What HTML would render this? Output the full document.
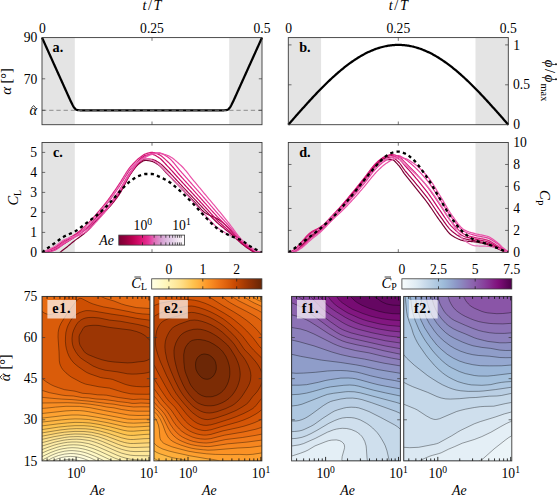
<!DOCTYPE html>
<html><head><meta charset="utf-8"><title>figure</title>
<style>html,body{margin:0;padding:0;background:#fff}body{width:558px;height:497px;overflow:hidden;font-family:"Liberation Serif",serif}</style></head>
<body>
<svg width="558" height="497" viewBox="0 0 558 497" style="display:block">
<rect width="558" height="497" fill="#fff"/>
<rect x="42.00" y="37.60" width="32.8" height="87.10" fill="#e4e4e4"/>
<rect x="229.20" y="37.60" width="32.8" height="87.10" fill="#e4e4e4"/>
<path d="M42.00,37.60 L42.50,38.71 L43.00,39.82 L43.50,40.92 L44.00,42.03 L44.50,43.14 L45.00,44.25 L45.50,45.36 L46.00,46.47 L46.50,47.57 L47.00,48.68 L47.50,49.79 L48.00,50.90 L48.50,52.01 L49.00,53.12 L49.50,54.22 L50.00,55.33 L50.50,56.44 L51.00,57.55 L51.50,58.66 L52.00,59.76 L52.50,60.87 L53.00,61.98 L53.50,63.09 L54.00,64.20 L54.50,65.31 L55.00,66.41 L55.50,67.52 L56.00,68.63 L56.50,69.74 L57.00,70.85 L57.50,71.96 L58.00,73.06 L58.50,74.17 L59.00,75.28 L59.50,76.39 L60.00,77.50 L60.50,78.60 L61.00,79.71 L61.50,80.82 L62.00,81.93 L62.50,83.04 L63.00,84.15 L63.50,85.25 L64.00,86.36 L64.50,87.47 L65.00,88.58 L65.50,89.69 L66.00,90.79 L66.50,91.90 L67.00,93.01 L67.50,94.11 L68.00,95.22 L68.50,96.32 L69.00,97.42 L69.50,98.52 L70.00,99.61 L70.50,100.70 L71.00,101.77 L71.50,102.82 L72.00,103.85 L72.50,104.84 L73.00,105.77 L73.50,106.64 L74.00,107.42 L74.50,108.10 L75.00,108.67 L75.50,109.12 L76.00,109.47 L76.50,109.72 L77.00,109.91 L77.50,110.03 L78.00,110.12 L78.50,110.18 L79.00,110.22 L79.50,110.25 L80.00,110.27 L80.50,110.28 L81.00,110.28 L81.50,110.29 L82.00,110.29 L82.50,110.30 L83.00,110.30 L83.50,110.30 L84.00,110.30 L84.50,110.30 L85.00,110.30 L85.50,110.30 L86.00,110.30 L86.50,110.30 L87.00,110.30 L87.50,110.30 L88.00,110.30 L88.50,110.30 L89.00,110.30 L89.50,110.30 L90.00,110.30 L90.50,110.30 L91.00,110.30 L91.50,110.30 L92.00,110.30 L92.50,110.30 L93.00,110.30 L93.50,110.30 L94.00,110.30 L94.50,110.30 L95.00,110.30 L95.50,110.30 L96.00,110.30 L96.50,110.30 L97.00,110.30 L97.50,110.30 L98.00,110.30 L98.50,110.30 L99.00,110.30 L99.50,110.30 L100.00,110.30 L100.50,110.30 L101.00,110.30 L101.50,110.30 L102.00,110.30 L102.50,110.30 L103.00,110.30 L103.50,110.30 L104.00,110.30 L104.50,110.30 L105.00,110.30 L105.50,110.30 L106.00,110.30 L106.50,110.30 L107.00,110.30 L107.50,110.30 L108.00,110.30 L108.50,110.30 L109.00,110.30 L109.50,110.30 L110.00,110.30 L110.50,110.30 L111.00,110.30 L111.50,110.30 L112.00,110.30 L112.50,110.30 L113.00,110.30 L113.50,110.30 L114.00,110.30 L114.50,110.30 L115.00,110.30 L115.50,110.30 L116.00,110.30 L116.50,110.30 L117.00,110.30 L117.50,110.30 L118.00,110.30 L118.50,110.30 L119.00,110.30 L119.50,110.30 L120.00,110.30 L120.50,110.30 L121.00,110.30 L121.50,110.30 L122.00,110.30 L122.50,110.30 L123.00,110.30 L123.50,110.30 L124.00,110.30 L124.50,110.30 L125.00,110.30 L125.50,110.30 L126.00,110.30 L126.50,110.30 L127.00,110.30 L127.50,110.30 L128.00,110.30 L128.50,110.30 L129.00,110.30 L129.50,110.30 L130.00,110.30 L130.50,110.30 L131.00,110.30 L131.50,110.30 L132.00,110.30 L132.50,110.30 L133.00,110.30 L133.50,110.30 L134.00,110.30 L134.50,110.30 L135.00,110.30 L135.50,110.30 L136.00,110.30 L136.50,110.30 L137.00,110.30 L137.50,110.30 L138.00,110.30 L138.50,110.30 L139.00,110.30 L139.50,110.30 L140.00,110.30 L140.50,110.30 L141.00,110.30 L141.50,110.30 L142.00,110.30 L142.50,110.30 L143.00,110.30 L143.50,110.30 L144.00,110.30 L144.50,110.30 L145.00,110.30 L145.50,110.30 L146.00,110.30 L146.50,110.30 L147.00,110.30 L147.50,110.30 L148.00,110.30 L148.50,110.30 L149.00,110.30 L149.50,110.30 L150.00,110.30 L150.50,110.30 L151.00,110.30 L151.50,110.30 L152.00,110.30 L152.50,110.30 L153.00,110.30 L153.50,110.30 L154.00,110.30 L154.50,110.30 L155.00,110.30 L155.50,110.30 L156.00,110.30 L156.50,110.30 L157.00,110.30 L157.50,110.30 L158.00,110.30 L158.50,110.30 L159.00,110.30 L159.50,110.30 L160.00,110.30 L160.50,110.30 L161.00,110.30 L161.50,110.30 L162.00,110.30 L162.50,110.30 L163.00,110.30 L163.50,110.30 L164.00,110.30 L164.50,110.30 L165.00,110.30 L165.50,110.30 L166.00,110.30 L166.50,110.30 L167.00,110.30 L167.50,110.30 L168.00,110.30 L168.50,110.30 L169.00,110.30 L169.50,110.30 L170.00,110.30 L170.50,110.30 L171.00,110.30 L171.50,110.30 L172.00,110.30 L172.50,110.30 L173.00,110.30 L173.50,110.30 L174.00,110.30 L174.50,110.30 L175.00,110.30 L175.50,110.30 L176.00,110.30 L176.50,110.30 L177.00,110.30 L177.50,110.30 L178.00,110.30 L178.50,110.30 L179.00,110.30 L179.50,110.30 L180.00,110.30 L180.50,110.30 L181.00,110.30 L181.50,110.30 L182.00,110.30 L182.50,110.30 L183.00,110.30 L183.50,110.30 L184.00,110.30 L184.50,110.30 L185.00,110.30 L185.50,110.30 L186.00,110.30 L186.50,110.30 L187.00,110.30 L187.50,110.30 L188.00,110.30 L188.50,110.30 L189.00,110.30 L189.50,110.30 L190.00,110.30 L190.50,110.30 L191.00,110.30 L191.50,110.30 L192.00,110.30 L192.50,110.30 L193.00,110.30 L193.50,110.30 L194.00,110.30 L194.50,110.30 L195.00,110.30 L195.50,110.30 L196.00,110.30 L196.50,110.30 L197.00,110.30 L197.50,110.30 L198.00,110.30 L198.50,110.30 L199.00,110.30 L199.50,110.30 L200.00,110.30 L200.50,110.30 L201.00,110.30 L201.50,110.30 L202.00,110.30 L202.50,110.30 L203.00,110.30 L203.50,110.30 L204.00,110.30 L204.50,110.30 L205.00,110.30 L205.50,110.30 L206.00,110.30 L206.50,110.30 L207.00,110.30 L207.50,110.30 L208.00,110.30 L208.50,110.30 L209.00,110.30 L209.50,110.30 L210.00,110.30 L210.50,110.30 L211.00,110.30 L211.50,110.30 L212.00,110.30 L212.50,110.30 L213.00,110.30 L213.50,110.30 L214.00,110.30 L214.50,110.30 L215.00,110.30 L215.50,110.30 L216.00,110.30 L216.50,110.30 L217.00,110.30 L217.50,110.30 L218.00,110.30 L218.50,110.30 L219.00,110.30 L219.50,110.30 L220.00,110.30 L220.50,110.30 L221.00,110.30 L221.50,110.30 L222.00,110.29 L222.50,110.29 L223.00,110.28 L223.50,110.28 L224.00,110.27 L224.50,110.25 L225.00,110.22 L225.50,110.18 L226.00,110.12 L226.50,110.03 L227.00,109.91 L227.50,109.72 L228.00,109.47 L228.50,109.12 L229.00,108.67 L229.50,108.10 L230.00,107.42 L230.50,106.64 L231.00,105.77 L231.50,104.84 L232.00,103.85 L232.50,102.82 L233.00,101.77 L233.50,100.70 L234.00,99.61 L234.50,98.52 L235.00,97.42 L235.50,96.32 L236.00,95.22 L236.50,94.11 L237.00,93.01 L237.50,91.90 L238.00,90.79 L238.50,89.69 L239.00,88.58 L239.50,87.47 L240.00,86.36 L240.50,85.25 L241.00,84.15 L241.50,83.04 L242.00,81.93 L242.50,80.82 L243.00,79.71 L243.50,78.60 L244.00,77.50 L244.50,76.39 L245.00,75.28 L245.50,74.17 L246.00,73.06 L246.50,71.96 L247.00,70.85 L247.50,69.74 L248.00,68.63 L248.50,67.52 L249.00,66.41 L249.50,65.31 L250.00,64.20 L250.50,63.09 L251.00,61.98 L251.50,60.87 L252.00,59.76 L252.50,58.66 L253.00,57.55 L253.50,56.44 L254.00,55.33 L254.50,54.22 L255.00,53.12 L255.50,52.01 L256.00,50.90 L256.50,49.79 L257.00,48.68 L257.50,47.57 L258.00,46.47 L258.50,45.36 L259.00,44.25 L259.50,43.14 L260.00,42.03 L260.50,40.92 L261.00,39.82 L261.50,38.71 L262.00,37.60" fill="none" stroke="#000" stroke-width="2.25" stroke-linejoin="round" stroke-linecap="butt" />
<line x1="42.00" y1="110.30" x2="262.00" y2="110.30" stroke="#7d7d7d" stroke-width="0.85" stroke-dasharray="4.3 2.9"/>
<rect x="42.00" y="37.60" width="220.00" height="87.10" fill="none" stroke="#3a3a3a" stroke-width="0.9" />
<line x1="152.00" y1="37.60" x2="152.00" y2="40.80" stroke="#3a3a3a" stroke-width="0.7" />
<line x1="152.00" y1="124.70" x2="152.00" y2="121.50" stroke="#3a3a3a" stroke-width="0.7" />
<line x1="42.00" y1="78.80" x2="45.20" y2="78.80" stroke="#3a3a3a" stroke-width="0.7" />
<line x1="262.00" y1="78.80" x2="258.80" y2="78.80" stroke="#3a3a3a" stroke-width="0.7" />
<line x1="42.00" y1="110.30" x2="45.20" y2="110.30" stroke="#3a3a3a" stroke-width="0.7" />
<line x1="262.00" y1="110.30" x2="258.80" y2="110.30" stroke="#3a3a3a" stroke-width="0.7" />
<text x="42.30" y="32.50" font-family='"Liberation Serif", serif' font-size="13.6" text-anchor="middle"  >0</text>
<text x="152.00" y="32.50" font-family='"Liberation Serif", serif' font-size="13.6" text-anchor="middle"  >0.25</text>
<text x="262.00" y="32.50" font-family='"Liberation Serif", serif' font-size="13.6" text-anchor="middle"  >0.5</text>
<text x="152.8" y="10.2" font-family='"Liberation Serif", serif' font-size="14.2" text-anchor="middle" font-style="italic" letter-spacing="1.6">t<tspan font-style="normal">/</tspan>T</text>
<text x="37.30" y="42.30" font-family='"Liberation Serif", serif' font-size="13.6" text-anchor="end"  >90</text>
<text x="37.30" y="83.50" font-family='"Liberation Serif", serif' font-size="13.6" text-anchor="end"  >70</text>
<text x="37.00" y="115.40" font-family='"Liberation Serif", serif' font-size="14.5" text-anchor="end" font-style="italic">α</text>
<path d="M31.30,108.15 L33.60,105.55 L35.90,108.15" fill="none" stroke="#000" stroke-width="0.75"/>
<g transform="translate(10.6,81.5) rotate(-90)"><text x="0" y="0" font-family='"Liberation Serif", serif' font-size="14.2" text-anchor="middle"><tspan font-style="italic" font-size="14.8">α</tspan> [°]</text></g>
<text x="52.6" y="51.8" font-family='"Liberation Serif", serif' font-size="14.2" font-weight="bold">a.</text>
<rect x="288.30" y="37.60" width="32.8" height="87.10" fill="#e4e4e4"/>
<rect x="475.50" y="37.60" width="32.8" height="87.10" fill="#e4e4e4"/>
<path d="M288.30,124.70 L289.30,123.56 L290.30,122.42 L291.30,121.28 L292.30,120.14 L293.30,119.01 L294.30,117.87 L295.30,116.74 L296.30,115.60 L297.30,114.47 L298.30,113.34 L299.30,112.22 L300.30,111.09 L301.30,109.97 L302.30,108.85 L303.30,107.74 L304.30,106.63 L305.30,105.52 L306.30,104.41 L307.30,103.31 L308.30,102.22 L309.30,101.13 L310.30,100.04 L311.30,98.96 L312.30,97.88 L313.30,96.81 L314.30,95.75 L315.30,94.69 L316.30,93.64 L317.30,92.59 L318.30,91.55 L319.30,90.52 L320.30,89.49 L321.30,88.47 L322.30,87.46 L323.30,86.46 L324.30,85.46 L325.30,84.47 L326.30,83.49 L327.30,82.52 L328.30,81.56 L329.30,80.60 L330.30,79.66 L331.30,78.72 L332.30,77.79 L333.30,76.88 L334.30,75.97 L335.30,75.07 L336.30,74.19 L337.30,73.31 L338.30,72.44 L339.30,71.59 L340.30,70.74 L341.30,69.91 L342.30,69.08 L343.30,68.27 L344.30,67.47 L345.30,66.68 L346.30,65.91 L347.30,65.14 L348.30,64.39 L349.30,63.65 L350.30,62.92 L351.30,62.21 L352.30,61.51 L353.30,60.82 L354.30,60.14 L355.30,59.48 L356.30,58.83 L357.30,58.19 L358.30,57.57 L359.30,56.96 L360.30,56.36 L361.30,55.78 L362.30,55.21 L363.30,54.66 L364.30,54.12 L365.30,53.60 L366.30,53.09 L367.30,52.59 L368.30,52.11 L369.30,51.65 L370.30,51.19 L371.30,50.76 L372.30,50.34 L373.30,49.93 L374.30,49.54 L375.30,49.17 L376.30,48.81 L377.30,48.46 L378.30,48.13 L379.30,47.82 L380.30,47.52 L381.30,47.24 L382.30,46.97 L383.30,46.72 L384.30,46.49 L385.30,46.27 L386.30,46.07 L387.30,45.88 L388.30,45.71 L389.30,45.56 L390.30,45.42 L391.30,45.30 L392.30,45.19 L393.30,45.10 L394.30,45.03 L395.30,44.97 L396.30,44.93 L397.30,44.91 L398.30,44.90 L399.30,44.91 L400.30,44.93 L401.30,44.97 L402.30,45.03 L403.30,45.10 L404.30,45.19 L405.30,45.30 L406.30,45.42 L407.30,45.56 L408.30,45.71 L409.30,45.88 L410.30,46.07 L411.30,46.27 L412.30,46.49 L413.30,46.72 L414.30,46.97 L415.30,47.24 L416.30,47.52 L417.30,47.82 L418.30,48.13 L419.30,48.46 L420.30,48.81 L421.30,49.17 L422.30,49.54 L423.30,49.93 L424.30,50.34 L425.30,50.76 L426.30,51.19 L427.30,51.65 L428.30,52.11 L429.30,52.59 L430.30,53.09 L431.30,53.60 L432.30,54.12 L433.30,54.66 L434.30,55.21 L435.30,55.78 L436.30,56.36 L437.30,56.96 L438.30,57.57 L439.30,58.19 L440.30,58.83 L441.30,59.48 L442.30,60.14 L443.30,60.82 L444.30,61.51 L445.30,62.21 L446.30,62.92 L447.30,63.65 L448.30,64.39 L449.30,65.14 L450.30,65.91 L451.30,66.68 L452.30,67.47 L453.30,68.27 L454.30,69.08 L455.30,69.91 L456.30,70.74 L457.30,71.59 L458.30,72.44 L459.30,73.31 L460.30,74.19 L461.30,75.07 L462.30,75.97 L463.30,76.88 L464.30,77.79 L465.30,78.72 L466.30,79.66 L467.30,80.60 L468.30,81.56 L469.30,82.52 L470.30,83.49 L471.30,84.47 L472.30,85.46 L473.30,86.46 L474.30,87.46 L475.30,88.47 L476.30,89.49 L477.30,90.52 L478.30,91.55 L479.30,92.59 L480.30,93.64 L481.30,94.69 L482.30,95.75 L483.30,96.81 L484.30,97.88 L485.30,98.96 L486.30,100.04 L487.30,101.13 L488.30,102.22 L489.30,103.31 L490.30,104.41 L491.30,105.52 L492.30,106.63 L493.30,107.74 L494.30,108.85 L495.30,109.97 L496.30,111.09 L497.30,112.22 L498.30,113.34 L499.30,114.47 L500.30,115.60 L501.30,116.74 L502.30,117.87 L503.30,119.01 L504.30,120.14 L505.30,121.28 L506.30,122.42 L507.30,123.56 L508.30,124.70" fill="none" stroke="#000" stroke-width="2.25" stroke-linejoin="round" stroke-linecap="butt" />
<rect x="288.30" y="37.60" width="220.00" height="87.10" fill="none" stroke="#3a3a3a" stroke-width="0.9" />
<line x1="398.30" y1="37.60" x2="398.30" y2="40.80" stroke="#3a3a3a" stroke-width="0.7" />
<line x1="398.30" y1="124.70" x2="398.30" y2="121.50" stroke="#3a3a3a" stroke-width="0.7" />
<line x1="288.30" y1="44.90" x2="291.50" y2="44.90" stroke="#3a3a3a" stroke-width="0.7" />
<line x1="508.30" y1="44.90" x2="505.10" y2="44.90" stroke="#3a3a3a" stroke-width="0.7" />
<line x1="288.30" y1="84.80" x2="291.50" y2="84.80" stroke="#3a3a3a" stroke-width="0.7" />
<line x1="508.30" y1="84.80" x2="505.10" y2="84.80" stroke="#3a3a3a" stroke-width="0.7" />
<text x="288.60" y="32.50" font-family='"Liberation Serif", serif' font-size="13.6" text-anchor="middle"  >0</text>
<text x="398.30" y="32.50" font-family='"Liberation Serif", serif' font-size="13.6" text-anchor="middle"  >0.25</text>
<text x="508.30" y="32.50" font-family='"Liberation Serif", serif' font-size="13.6" text-anchor="middle"  >0.5</text>
<text x="399.1" y="10.2" font-family='"Liberation Serif", serif' font-size="14.2" text-anchor="middle" font-style="italic" letter-spacing="1.6">t<tspan font-style="normal">/</tspan>T</text>
<text x="513.30" y="49.50" font-family='"Liberation Serif", serif' font-size="13.6" text-anchor="start"  >1</text>
<text x="513.00" y="89.40" font-family='"Liberation Serif", serif' font-size="13.6" text-anchor="start"  >0.5</text>
<text x="513.30" y="129.40" font-family='"Liberation Serif", serif' font-size="13.6" text-anchor="start"  >0</text>
<g transform="translate(544.6,80.4) rotate(90)" font-family='"Liberation Serif", serif'><text x="-20.6" y="0" font-size="14.6" font-style="italic">ϕ</text><circle cx="-16.2" cy="-11.4" r="0.95"/><text x="-11.3" y="0" font-size="14.6">/</text><text x="-5.6" y="0" font-size="14.6" font-style="italic">ϕ</text><circle cx="-1.2" cy="-11.4" r="0.95"/><text x="3.2" y="3.4" font-size="10.3">max</text></g>
<text x="299.2" y="51.8" font-family='"Liberation Serif", serif' font-size="14.2" font-weight="bold">b.</text>
<rect x="42.00" y="142.50" width="32.8" height="109.90" fill="#e4e4e4"/>
<rect x="229.20" y="142.50" width="32.8" height="109.90" fill="#e4e4e4"/>
<clipPath id="cc"><rect x="42.0" y="142.5" width="220.0" height="109.9"/></clipPath>
<g clip-path="url(#cc)">
<path d="M42.00,252.80 L43.00,253.41 L44.00,253.98 L45.00,254.48 L46.00,254.89 L47.00,255.20 L48.00,255.37 L49.00,255.40 L50.00,255.38 L51.00,255.34 L52.00,255.28 L53.00,255.21 L54.00,255.12 L55.00,255.02 L56.00,254.84 L57.00,254.46 L58.00,253.91 L59.00,253.23 L60.00,252.46 L61.00,251.63 L62.00,250.79 L63.00,249.96 L64.00,249.20 L65.00,248.46 L66.00,247.70 L67.00,246.92 L68.00,246.11 L69.00,245.30 L70.00,244.47 L71.00,243.64 L72.00,242.82 L73.00,242.00 L74.00,241.19 L75.00,240.40 L76.00,239.63 L77.00,238.89 L78.00,238.16 L79.00,237.45 L80.00,236.73 L81.00,236.01 L82.00,235.27 L83.00,234.50 L84.00,233.71 L85.00,232.88 L86.00,232.00 L87.00,231.06 L88.00,230.04 L89.00,228.97 L90.00,227.86 L91.00,226.71 L92.00,225.54 L93.00,224.36 L94.00,223.19 L95.00,222.03 L96.00,220.89 L97.00,219.80 L98.00,218.74 L99.00,217.72 L100.00,216.71 L101.00,215.71 L102.00,214.72 L103.00,213.72 L104.00,212.71 L105.00,211.68 L106.00,210.62 L107.00,209.53 L108.00,208.40 L109.00,207.23 L110.00,206.04 L111.00,204.83 L112.00,203.59 L113.00,202.32 L114.00,201.02 L115.00,199.69 L116.00,198.33 L117.00,196.92 L118.00,195.48 L119.00,194.00 L120.00,192.42 L121.00,190.72 L122.00,188.92 L123.00,187.05 L124.00,185.15 L125.00,183.23 L126.00,181.34 L127.00,179.50 L128.00,177.75 L129.00,176.10 L130.00,174.60 L131.00,173.18 L132.00,171.77 L133.00,170.39 L134.00,169.06 L135.00,167.80 L136.00,166.63 L137.00,165.57 L138.00,164.64 L139.00,163.85 L140.00,163.09 L141.00,162.35 L142.00,161.66 L143.00,161.07 L144.00,160.64 L145.00,160.42 L146.00,160.41 L147.00,160.48 L148.00,160.60 L149.00,160.76 L150.00,160.95 L151.00,161.17 L152.00,161.40 L153.00,161.70 L154.00,162.13 L155.00,162.65 L156.00,163.24 L157.00,163.89 L158.00,164.58 L159.00,165.29 L160.00,166.11 L161.00,167.05 L162.00,168.07 L163.00,169.15 L164.00,170.26 L165.00,171.39 L166.00,172.51 L167.00,173.59 L168.00,174.61 L169.00,175.64 L170.00,176.66 L171.00,177.68 L172.00,178.70 L173.00,179.73 L174.00,180.75 L175.00,181.77 L176.00,182.80 L177.00,183.82 L178.00,184.85 L179.00,185.87 L180.00,186.90 L181.00,187.93 L182.00,188.96 L183.00,190.00 L184.00,191.04 L185.00,192.08 L186.00,193.12 L187.00,194.16 L188.00,195.20 L189.00,196.24 L190.00,197.28 L191.00,198.32 L192.00,199.35 L193.00,200.38 L194.00,201.41 L195.00,202.46 L196.00,203.56 L197.00,204.68 L198.00,205.80 L199.00,206.92 L200.00,208.02 L201.00,209.09 L202.00,210.10 L203.00,211.04 L204.00,211.91 L205.00,212.68 L206.00,213.35 L207.00,213.94 L208.00,214.48 L209.00,214.97 L210.00,215.43 L211.00,215.86 L212.00,216.28 L213.00,216.70 L214.00,217.13 L215.00,217.58 L216.00,218.07 L217.00,218.61 L218.00,219.20 L219.00,219.85 L220.00,220.55 L221.00,221.29 L222.00,222.07 L223.00,222.89 L224.00,223.74 L225.00,224.63 L226.00,225.54 L227.00,226.47 L228.00,227.43 L229.00,228.40 L230.00,229.44 L231.00,230.58 L232.00,231.79 L233.00,233.07 L234.00,234.38 L235.00,235.71 L236.00,237.04 L237.00,238.34 L238.00,239.60 L239.00,240.80 L240.00,241.91 L241.00,242.91 L242.00,243.80 L243.00,244.62 L244.00,245.40 L245.00,246.14 L246.00,246.85 L247.00,247.53 L248.00,248.17 L249.00,248.80 L250.00,249.41 L251.00,250.00 L252.00,250.63 L253.00,251.32 L254.00,251.99 L255.00,252.60 L256.00,253.07 L257.00,253.35 L258.00,253.40 L259.00,253.40 L260.00,253.40 L261.00,253.40 L262.00,253.40" fill="none" stroke="#7a0033" stroke-width="1.2" stroke-linejoin="round" stroke-linecap="butt" />
<path d="M42.00,252.40 L43.00,252.33 L44.00,252.23 L45.00,252.09 L46.00,251.92 L47.00,251.73 L48.00,251.53 L49.00,251.31 L50.00,251.04 L51.00,250.72 L52.00,250.35 L53.00,249.95 L54.00,249.53 L55.00,249.09 L56.00,248.63 L57.00,248.11 L58.00,247.55 L59.00,246.95 L60.00,246.33 L61.00,245.70 L62.00,245.06 L63.00,244.42 L64.00,243.80 L65.00,243.19 L66.00,242.57 L67.00,241.95 L68.00,241.33 L69.00,240.71 L70.00,240.08 L71.00,239.44 L72.00,238.79 L73.00,238.14 L74.00,237.47 L75.00,236.80 L76.00,236.13 L77.00,235.46 L78.00,234.79 L79.00,234.11 L80.00,233.43 L81.00,232.73 L82.00,232.01 L83.00,231.26 L84.00,230.48 L85.00,229.66 L86.00,228.80 L87.00,227.86 L88.00,226.81 L89.00,225.67 L90.00,224.48 L91.00,223.26 L92.00,222.02 L93.00,220.78 L94.00,219.58 L95.00,218.44 L96.00,217.37 L97.00,216.40 L98.00,215.53 L99.00,214.73 L100.00,213.98 L101.00,213.26 L102.00,212.57 L103.00,211.89 L104.00,211.19 L105.00,210.47 L106.00,209.71 L107.00,208.89 L108.00,208.00 L109.00,207.04 L110.00,206.03 L111.00,204.97 L112.00,203.86 L113.00,202.70 L114.00,201.50 L115.00,200.24 L116.00,198.95 L117.00,197.61 L118.00,196.23 L119.00,194.80 L120.00,193.26 L121.00,191.57 L122.00,189.75 L123.00,187.84 L124.00,185.87 L125.00,183.88 L126.00,181.91 L127.00,179.98 L128.00,178.13 L129.00,176.39 L130.00,174.80 L131.00,173.30 L132.00,171.82 L133.00,170.37 L134.00,168.97 L135.00,167.64 L136.00,166.38 L137.00,165.21 L138.00,164.16 L139.00,163.22 L140.00,162.28 L141.00,161.33 L142.00,160.45 L143.00,159.69 L144.00,159.12 L145.00,158.83 L146.00,158.81 L147.00,158.84 L148.00,158.91 L149.00,159.01 L150.00,159.12 L151.00,159.25 L152.00,159.40 L153.00,159.62 L154.00,159.95 L155.00,160.39 L156.00,160.89 L157.00,161.45 L158.00,162.04 L159.00,162.65 L160.00,163.35 L161.00,164.15 L162.00,165.04 L163.00,165.98 L164.00,166.97 L165.00,167.98 L166.00,169.00 L167.00,170.01 L168.00,170.99 L169.00,172.00 L170.00,173.02 L171.00,174.07 L172.00,175.13 L173.00,176.21 L174.00,177.29 L175.00,178.39 L176.00,179.49 L177.00,180.58 L178.00,181.68 L179.00,182.77 L180.00,183.85 L181.00,184.92 L182.00,185.98 L183.00,187.04 L184.00,188.10 L185.00,189.15 L186.00,190.21 L187.00,191.26 L188.00,192.31 L189.00,193.36 L190.00,194.41 L191.00,195.46 L192.00,196.51 L193.00,197.56 L194.00,198.61 L195.00,199.66 L196.00,200.71 L197.00,201.76 L198.00,202.81 L199.00,203.86 L200.00,204.91 L201.00,205.96 L202.00,207.00 L203.00,208.05 L204.00,209.09 L205.00,210.12 L206.00,211.16 L207.00,212.21 L208.00,213.26 L209.00,214.32 L210.00,215.38 L211.00,216.43 L212.00,217.48 L213.00,218.52 L214.00,219.54 L215.00,220.54 L216.00,221.52 L217.00,222.48 L218.00,223.40 L219.00,224.29 L220.00,225.15 L221.00,225.98 L222.00,226.79 L223.00,227.59 L224.00,228.38 L225.00,229.16 L226.00,229.95 L227.00,230.75 L228.00,231.57 L229.00,232.40 L230.00,233.26 L231.00,234.13 L232.00,235.02 L233.00,235.92 L234.00,236.82 L235.00,237.73 L236.00,238.63 L237.00,239.53 L238.00,240.41 L239.00,241.28 L240.00,242.14 L241.00,242.96 L242.00,243.77 L243.00,244.56 L244.00,245.36 L245.00,246.14 L246.00,246.91 L247.00,247.66 L248.00,248.38 L249.00,249.09 L250.00,249.76 L251.00,250.40 L252.00,251.07 L253.00,251.80 L254.00,252.51 L255.00,253.15 L256.00,253.65 L257.00,253.95 L258.00,254.00 L259.00,253.98 L260.00,253.90 L261.00,253.72 L262.00,253.40" fill="none" stroke="#a3004b" stroke-width="1.2" stroke-linejoin="round" stroke-linecap="butt" />
<path d="M42.00,252.40 L43.00,252.12 L44.00,251.84 L45.00,251.54 L46.00,251.23 L47.00,250.92 L48.00,250.60 L49.00,250.27 L50.00,249.94 L51.00,249.61 L52.00,249.27 L53.00,248.91 L54.00,248.52 L55.00,248.09 L56.00,247.61 L57.00,247.06 L58.00,246.46 L59.00,245.81 L60.00,245.13 L61.00,244.44 L62.00,243.75 L63.00,243.06 L64.00,242.40 L65.00,241.75 L66.00,241.11 L67.00,240.46 L68.00,239.81 L69.00,239.15 L70.00,238.50 L71.00,237.84 L72.00,237.18 L73.00,236.52 L74.00,235.86 L75.00,235.20 L76.00,234.55 L77.00,233.91 L78.00,233.27 L79.00,232.65 L80.00,232.01 L81.00,231.37 L82.00,230.71 L83.00,230.03 L84.00,229.32 L85.00,228.58 L86.00,227.80 L87.00,226.97 L88.00,226.10 L89.00,225.19 L90.00,224.24 L91.00,223.26 L92.00,222.24 L93.00,221.20 L94.00,220.13 L95.00,219.04 L96.00,217.93 L97.00,216.80 L98.00,215.64 L99.00,214.43 L100.00,213.18 L101.00,211.90 L102.00,210.58 L103.00,209.24 L104.00,207.88 L105.00,206.51 L106.00,205.14 L107.00,203.77 L108.00,202.40 L109.00,201.03 L110.00,199.66 L111.00,198.28 L112.00,196.88 L113.00,195.48 L114.00,194.06 L115.00,192.64 L116.00,191.20 L117.00,189.75 L118.00,188.28 L119.00,186.80 L120.00,185.27 L121.00,183.68 L122.00,182.04 L123.00,180.37 L124.00,178.70 L125.00,177.04 L126.00,175.41 L127.00,173.83 L128.00,172.32 L129.00,170.91 L130.00,169.60 L131.00,168.38 L132.00,167.21 L133.00,166.09 L134.00,165.01 L135.00,163.97 L136.00,162.98 L137.00,162.03 L138.00,161.11 L139.00,160.22 L140.00,159.31 L141.00,158.37 L142.00,157.47 L143.00,156.66 L144.00,155.99 L145.00,155.52 L146.00,155.25 L147.00,155.02 L148.00,154.82 L149.00,154.64 L150.00,154.51 L151.00,154.43 L152.00,154.40 L153.00,154.51 L154.00,154.80 L155.00,155.24 L156.00,155.79 L157.00,156.40 L158.00,157.03 L159.00,157.66 L160.00,158.39 L161.00,159.25 L162.00,160.21 L163.00,161.24 L164.00,162.31 L165.00,163.41 L166.00,164.51 L167.00,165.58 L168.00,166.62 L169.00,167.67 L170.00,168.74 L171.00,169.82 L172.00,170.91 L173.00,172.02 L174.00,173.13 L175.00,174.24 L176.00,175.36 L177.00,176.48 L178.00,177.60 L179.00,178.71 L180.00,179.82 L181.00,180.92 L182.00,182.01 L183.00,183.10 L184.00,184.18 L185.00,185.27 L186.00,186.35 L187.00,187.44 L188.00,188.52 L189.00,189.60 L190.00,190.69 L191.00,191.77 L192.00,192.85 L193.00,193.93 L194.00,195.02 L195.00,196.10 L196.00,197.18 L197.00,198.26 L198.00,199.34 L199.00,200.42 L200.00,201.50 L201.00,202.58 L202.00,203.66 L203.00,204.74 L204.00,205.82 L205.00,206.90 L206.00,207.99 L207.00,209.09 L208.00,210.20 L209.00,211.31 L210.00,212.43 L211.00,213.55 L212.00,214.67 L213.00,215.77 L214.00,216.86 L215.00,217.93 L216.00,218.98 L217.00,220.01 L218.00,221.00 L219.00,221.96 L220.00,222.89 L221.00,223.80 L222.00,224.69 L223.00,225.56 L224.00,226.43 L225.00,227.29 L226.00,228.15 L227.00,229.02 L228.00,229.90 L229.00,230.80 L230.00,231.72 L231.00,232.65 L232.00,233.60 L233.00,234.56 L234.00,235.52 L235.00,236.48 L236.00,237.44 L237.00,238.38 L238.00,239.31 L239.00,240.22 L240.00,241.10 L241.00,241.95 L242.00,242.78 L243.00,243.59 L244.00,244.39 L245.00,245.18 L246.00,245.95 L247.00,246.70 L248.00,247.43 L249.00,248.12 L250.00,248.78 L251.00,249.40 L252.00,250.04 L253.00,250.73 L254.00,251.41 L255.00,252.01 L256.00,252.47 L257.00,252.75 L258.00,252.80 L259.00,252.80 L260.00,252.80 L261.00,252.80 L262.00,252.80" fill="none" stroke="#c40764" stroke-width="1.2" stroke-linejoin="round" stroke-linecap="butt" />
<path d="M42.00,252.40 L43.00,252.07 L44.00,251.73 L45.00,251.38 L46.00,251.01 L47.00,250.63 L48.00,250.24 L49.00,249.84 L50.00,249.43 L51.00,249.01 L52.00,248.57 L53.00,248.12 L54.00,247.63 L55.00,247.11 L56.00,246.54 L57.00,245.89 L58.00,245.19 L59.00,244.46 L60.00,243.70 L61.00,242.94 L62.00,242.19 L63.00,241.47 L64.00,240.80 L65.00,240.18 L66.00,239.59 L67.00,239.02 L68.00,238.47 L69.00,237.93 L70.00,237.38 L71.00,236.83 L72.00,236.27 L73.00,235.68 L74.00,235.06 L75.00,234.40 L76.00,233.71 L77.00,232.98 L78.00,232.23 L79.00,231.46 L80.00,230.66 L81.00,229.84 L82.00,228.99 L83.00,228.12 L84.00,227.23 L85.00,226.33 L86.00,225.40 L87.00,224.44 L88.00,223.44 L89.00,222.41 L90.00,221.34 L91.00,220.25 L92.00,219.14 L93.00,218.01 L94.00,216.86 L95.00,215.71 L96.00,214.55 L97.00,213.40 L98.00,212.24 L99.00,211.08 L100.00,209.91 L101.00,208.72 L102.00,207.52 L103.00,206.31 L104.00,205.08 L105.00,203.84 L106.00,202.58 L107.00,201.30 L108.00,200.00 L109.00,198.68 L110.00,197.33 L111.00,195.95 L112.00,194.56 L113.00,193.14 L114.00,191.71 L115.00,190.27 L116.00,188.82 L117.00,187.35 L118.00,185.88 L119.00,184.40 L120.00,182.88 L121.00,181.30 L122.00,179.68 L123.00,178.03 L124.00,176.37 L125.00,174.73 L126.00,173.12 L127.00,171.56 L128.00,170.08 L129.00,168.68 L130.00,167.40 L131.00,166.20 L132.00,165.04 L133.00,163.92 L134.00,162.85 L135.00,161.83 L136.00,160.85 L137.00,159.93 L138.00,159.06 L139.00,158.24 L140.00,157.44 L141.00,156.65 L142.00,155.91 L143.00,155.22 L144.00,154.63 L145.00,154.15 L146.00,153.79 L147.00,153.44 L148.00,153.11 L149.00,152.83 L150.00,152.60 L151.00,152.45 L152.00,152.40 L153.00,152.47 L154.00,152.66 L155.00,152.94 L156.00,153.30 L157.00,153.71 L158.00,154.14 L159.00,154.58 L160.00,155.13 L161.00,155.79 L162.00,156.54 L163.00,157.37 L164.00,158.25 L165.00,159.16 L166.00,160.10 L167.00,161.03 L168.00,161.96 L169.00,162.93 L170.00,163.96 L171.00,165.02 L172.00,166.12 L173.00,167.24 L174.00,168.39 L175.00,169.55 L176.00,170.72 L177.00,171.90 L178.00,173.07 L179.00,174.24 L180.00,175.39 L181.00,176.51 L182.00,177.62 L183.00,178.72 L184.00,179.82 L185.00,180.92 L186.00,182.02 L187.00,183.12 L188.00,184.21 L189.00,185.31 L190.00,186.41 L191.00,187.51 L192.00,188.61 L193.00,189.71 L194.00,190.82 L195.00,191.93 L196.00,193.04 L197.00,194.16 L198.00,195.28 L199.00,196.40 L200.00,197.51 L201.00,198.63 L202.00,199.75 L203.00,200.87 L204.00,201.98 L205.00,203.09 L206.00,204.20 L207.00,205.31 L208.00,206.43 L209.00,207.55 L210.00,208.67 L211.00,209.78 L212.00,210.90 L213.00,212.00 L214.00,213.10 L215.00,214.20 L216.00,215.28 L217.00,216.35 L218.00,217.40 L219.00,218.44 L220.00,219.46 L221.00,220.46 L222.00,221.46 L223.00,222.45 L224.00,223.43 L225.00,224.41 L226.00,225.40 L227.00,226.39 L228.00,227.39 L229.00,228.40 L230.00,229.43 L231.00,230.49 L232.00,231.58 L233.00,232.67 L234.00,233.76 L235.00,234.86 L236.00,235.94 L237.00,237.01 L238.00,238.04 L239.00,239.05 L240.00,240.01 L241.00,240.93 L242.00,241.79 L243.00,242.62 L244.00,243.43 L245.00,244.22 L246.00,244.98 L247.00,245.71 L248.00,246.42 L249.00,247.11 L250.00,247.77 L251.00,248.40 L252.00,249.05 L253.00,249.73 L254.00,250.40 L255.00,251.01 L256.00,251.51 L257.00,251.87 L258.00,252.06 L259.00,252.19 L260.00,252.30 L261.00,252.37 L262.00,252.40" fill="none" stroke="#d81b7a" stroke-width="1.2" stroke-linejoin="round" stroke-linecap="butt" />
<path d="M42.00,252.40 L43.00,252.39 L44.00,252.35 L45.00,252.30 L46.00,252.23 L47.00,252.15 L48.00,252.06 L49.00,251.95 L50.00,251.78 L51.00,251.53 L52.00,251.23 L53.00,250.88 L54.00,250.49 L55.00,250.08 L56.00,249.63 L57.00,249.06 L58.00,248.39 L59.00,247.66 L60.00,246.89 L61.00,246.09 L62.00,245.29 L63.00,244.52 L64.00,243.80 L65.00,243.11 L66.00,242.42 L67.00,241.74 L68.00,241.06 L69.00,240.38 L70.00,239.70 L71.00,239.03 L72.00,238.36 L73.00,237.70 L74.00,237.05 L75.00,236.40 L76.00,235.77 L77.00,235.17 L78.00,234.59 L79.00,234.02 L80.00,233.44 L81.00,232.87 L82.00,232.28 L83.00,231.66 L84.00,231.02 L85.00,230.33 L86.00,229.60 L87.00,228.81 L88.00,227.96 L89.00,227.05 L90.00,226.10 L91.00,225.11 L92.00,224.09 L93.00,223.04 L94.00,221.99 L95.00,220.92 L96.00,219.86 L97.00,218.80 L98.00,217.75 L99.00,216.69 L100.00,215.62 L101.00,214.54 L102.00,213.45 L103.00,212.33 L104.00,211.20 L105.00,210.04 L106.00,208.86 L107.00,207.65 L108.00,206.40 L109.00,205.12 L110.00,203.79 L111.00,202.43 L112.00,201.03 L113.00,199.60 L114.00,198.15 L115.00,196.67 L116.00,195.17 L117.00,193.66 L118.00,192.13 L119.00,190.60 L120.00,189.02 L121.00,187.38 L122.00,185.68 L123.00,183.95 L124.00,182.21 L125.00,180.46 L126.00,178.74 L127.00,177.06 L128.00,175.43 L129.00,173.87 L130.00,172.40 L131.00,170.99 L132.00,169.59 L133.00,168.22 L134.00,166.89 L135.00,165.61 L136.00,164.39 L137.00,163.24 L138.00,162.18 L139.00,161.21 L140.00,160.32 L141.00,159.47 L142.00,158.68 L143.00,157.94 L144.00,157.26 L145.00,156.63 L146.00,156.06 L147.00,155.48 L148.00,154.92 L149.00,154.41 L150.00,153.97 L151.00,153.62 L152.00,153.40 L153.00,153.25 L154.00,153.12 L155.00,153.01 L156.00,152.91 L157.00,152.84 L158.00,152.81 L159.00,152.81 L160.00,152.95 L161.00,153.23 L162.00,153.63 L163.00,154.11 L164.00,154.67 L165.00,155.28 L166.00,155.91 L167.00,156.55 L168.00,157.20 L169.00,157.96 L170.00,158.83 L171.00,159.80 L172.00,160.85 L173.00,161.98 L174.00,163.15 L175.00,164.37 L176.00,165.61 L177.00,166.86 L178.00,168.11 L179.00,169.35 L180.00,170.55 L181.00,171.71 L182.00,172.83 L183.00,173.95 L184.00,175.07 L185.00,176.20 L186.00,177.33 L187.00,178.47 L188.00,179.61 L189.00,180.74 L190.00,181.88 L191.00,183.02 L192.00,184.16 L193.00,185.29 L194.00,186.43 L195.00,187.56 L196.00,188.69 L197.00,189.82 L198.00,190.95 L199.00,192.08 L200.00,193.21 L201.00,194.34 L202.00,195.47 L203.00,196.60 L204.00,197.74 L205.00,198.88 L206.00,200.02 L207.00,201.16 L208.00,202.31 L209.00,203.46 L210.00,204.62 L211.00,205.78 L212.00,206.93 L213.00,208.09 L214.00,209.24 L215.00,210.39 L216.00,211.53 L217.00,212.67 L218.00,213.80 L219.00,214.92 L220.00,216.04 L221.00,217.15 L222.00,218.25 L223.00,219.35 L224.00,220.45 L225.00,221.55 L226.00,222.65 L227.00,223.76 L228.00,224.88 L229.00,226.00 L230.00,227.15 L231.00,228.32 L232.00,229.52 L233.00,230.74 L234.00,231.96 L235.00,233.17 L236.00,234.37 L237.00,235.55 L238.00,236.70 L239.00,237.82 L240.00,238.88 L241.00,239.88 L242.00,240.83 L243.00,241.74 L244.00,242.62 L245.00,243.48 L246.00,244.30 L247.00,245.10 L248.00,245.87 L249.00,246.61 L250.00,247.32 L251.00,248.00 L252.00,248.69 L253.00,249.39 L254.00,250.08 L255.00,250.71 L256.00,251.24 L257.00,251.64 L258.00,251.88 L259.00,252.08 L260.00,252.25 L261.00,252.36 L262.00,252.40" fill="none" stroke="#e5399a" stroke-width="1.2" stroke-linejoin="round" stroke-linecap="butt" />
<path d="M42.00,252.40 L43.00,252.21 L44.00,251.99 L45.00,251.76 L46.00,251.51 L47.00,251.25 L48.00,250.97 L49.00,250.68 L50.00,250.38 L51.00,250.05 L52.00,249.70 L53.00,249.33 L54.00,248.92 L55.00,248.49 L56.00,248.01 L57.00,247.44 L58.00,246.81 L59.00,246.14 L60.00,245.44 L61.00,244.74 L62.00,244.05 L63.00,243.40 L64.00,242.80 L65.00,242.24 L66.00,241.70 L67.00,241.17 L68.00,240.66 L69.00,240.16 L70.00,239.66 L71.00,239.17 L72.00,238.68 L73.00,238.19 L74.00,237.70 L75.00,237.20 L76.00,236.72 L77.00,236.25 L78.00,235.81 L79.00,235.37 L80.00,234.94 L81.00,234.49 L82.00,234.02 L83.00,233.53 L84.00,233.00 L85.00,232.43 L86.00,231.80 L87.00,231.10 L88.00,230.30 L89.00,229.43 L90.00,228.49 L91.00,227.49 L92.00,226.45 L93.00,225.38 L94.00,224.28 L95.00,223.18 L96.00,222.08 L97.00,221.00 L98.00,219.92 L99.00,218.81 L100.00,217.69 L101.00,216.55 L102.00,215.39 L103.00,214.20 L104.00,213.00 L105.00,211.78 L106.00,210.54 L107.00,209.28 L108.00,208.00 L109.00,206.70 L110.00,205.37 L111.00,204.02 L112.00,202.64 L113.00,201.25 L114.00,199.82 L115.00,198.38 L116.00,196.92 L117.00,195.43 L118.00,193.93 L119.00,192.40 L120.00,190.83 L121.00,189.19 L122.00,187.50 L123.00,185.77 L124.00,184.02 L125.00,182.27 L126.00,180.53 L127.00,178.82 L128.00,177.15 L129.00,175.54 L130.00,174.00 L131.00,172.49 L132.00,170.95 L133.00,169.43 L134.00,167.94 L135.00,166.50 L136.00,165.14 L137.00,163.90 L138.00,162.78 L139.00,161.82 L140.00,160.97 L141.00,160.19 L142.00,159.47 L143.00,158.81 L144.00,158.20 L145.00,157.62 L146.00,157.07 L147.00,156.52 L148.00,155.99 L149.00,155.49 L150.00,155.05 L151.00,154.68 L152.00,154.40 L153.00,154.17 L154.00,153.96 L155.00,153.77 L156.00,153.60 L157.00,153.48 L158.00,153.41 L159.00,153.41 L160.00,153.47 L161.00,153.61 L162.00,153.79 L163.00,154.03 L164.00,154.31 L165.00,154.61 L166.00,154.93 L167.00,155.27 L168.00,155.62 L169.00,156.05 L170.00,156.57 L171.00,157.16 L172.00,157.82 L173.00,158.54 L174.00,159.31 L175.00,160.13 L176.00,160.98 L177.00,161.87 L178.00,162.78 L179.00,163.70 L180.00,164.63 L181.00,165.56 L182.00,166.51 L183.00,167.53 L184.00,168.62 L185.00,169.77 L186.00,170.97 L187.00,172.21 L188.00,173.47 L189.00,174.75 L190.00,176.03 L191.00,177.32 L192.00,178.58 L193.00,179.83 L194.00,181.04 L195.00,182.24 L196.00,183.44 L197.00,184.64 L198.00,185.84 L199.00,187.04 L200.00,188.24 L201.00,189.45 L202.00,190.65 L203.00,191.85 L204.00,193.05 L205.00,194.25 L206.00,195.45 L207.00,196.64 L208.00,197.83 L209.00,199.02 L210.00,200.21 L211.00,201.40 L212.00,202.59 L213.00,203.79 L214.00,204.98 L215.00,206.18 L216.00,207.38 L217.00,208.59 L218.00,209.80 L219.00,211.02 L220.00,212.24 L221.00,213.47 L222.00,214.70 L223.00,215.93 L224.00,217.17 L225.00,218.41 L226.00,219.65 L227.00,220.90 L228.00,222.15 L229.00,223.40 L230.00,224.68 L231.00,225.99 L232.00,227.34 L233.00,228.70 L234.00,230.06 L235.00,231.42 L236.00,232.77 L237.00,234.08 L238.00,235.36 L239.00,236.58 L240.00,237.75 L241.00,238.84 L242.00,239.86 L243.00,240.83 L244.00,241.77 L245.00,242.67 L246.00,243.54 L247.00,244.37 L248.00,245.17 L249.00,245.94 L250.00,246.69 L251.00,247.40 L252.00,248.11 L253.00,248.82 L254.00,249.51 L255.00,250.15 L256.00,250.72 L257.00,251.18 L258.00,251.53 L259.00,251.83 L260.00,252.08 L261.00,252.28 L262.00,252.40" fill="none" stroke="#ea52a8" stroke-width="1.2" stroke-linejoin="round" stroke-linecap="butt" />
<path d="M42.00,252.40 L43.00,251.97 L44.00,251.53 L45.00,251.08 L46.00,250.63 L47.00,250.16 L48.00,249.69 L49.00,249.21 L50.00,248.72 L51.00,248.24 L52.00,247.74 L53.00,247.22 L54.00,246.68 L55.00,246.12 L56.00,245.50 L57.00,244.80 L58.00,244.04 L59.00,243.26 L60.00,242.47 L61.00,241.70 L62.00,240.99 L63.00,240.34 L64.00,239.80 L65.00,239.35 L66.00,238.95 L67.00,238.59 L68.00,238.26 L69.00,237.95 L70.00,237.65 L71.00,237.34 L72.00,237.01 L73.00,236.65 L74.00,236.25 L75.00,235.80 L76.00,235.29 L77.00,234.72 L78.00,234.10 L79.00,233.43 L80.00,232.72 L81.00,231.97 L82.00,231.19 L83.00,230.37 L84.00,229.54 L85.00,228.68 L86.00,227.80 L87.00,226.88 L88.00,225.88 L89.00,224.83 L90.00,223.73 L91.00,222.58 L92.00,221.40 L93.00,220.20 L94.00,219.00 L95.00,217.79 L96.00,216.58 L97.00,215.40 L98.00,214.23 L99.00,213.06 L100.00,211.88 L101.00,210.70 L102.00,209.50 L103.00,208.30 L104.00,207.08 L105.00,205.84 L106.00,204.58 L107.00,203.30 L108.00,202.00 L109.00,200.67 L110.00,199.31 L111.00,197.92 L112.00,196.51 L113.00,195.08 L114.00,193.63 L115.00,192.17 L116.00,190.69 L117.00,189.20 L118.00,187.70 L119.00,186.20 L120.00,184.64 L121.00,182.99 L122.00,181.28 L123.00,179.54 L124.00,177.79 L125.00,176.07 L126.00,174.39 L127.00,172.80 L128.00,171.32 L129.00,169.98 L130.00,168.80 L131.00,167.74 L132.00,166.73 L133.00,165.78 L134.00,164.89 L135.00,164.05 L136.00,163.27 L137.00,162.55 L138.00,161.89 L139.00,161.28 L140.00,160.67 L141.00,160.05 L142.00,159.47 L143.00,158.98 L144.00,158.61 L145.00,158.42 L146.00,158.42 L147.00,158.53 L148.00,158.73 L149.00,158.99 L150.00,159.30 L151.00,159.64 L152.00,160.00 L153.00,160.43 L154.00,160.98 L155.00,161.62 L156.00,162.35 L157.00,163.12 L158.00,163.92 L159.00,164.73 L160.00,165.61 L161.00,166.56 L162.00,167.57 L163.00,168.62 L164.00,169.71 L165.00,170.81 L166.00,171.90 L167.00,172.98 L168.00,174.03 L169.00,175.09 L170.00,176.15 L171.00,177.22 L172.00,178.29 L173.00,179.37 L174.00,180.46 L175.00,181.54 L176.00,182.63 L177.00,183.72 L178.00,184.82 L179.00,185.92 L180.00,187.02 L181.00,188.11 L182.00,189.22 L183.00,190.32 L184.00,191.43 L185.00,192.54 L186.00,193.66 L187.00,194.78 L188.00,195.90 L189.00,197.02 L190.00,198.15 L191.00,199.27 L192.00,200.39 L193.00,201.51 L194.00,202.62 L195.00,203.74 L196.00,204.87 L197.00,206.01 L198.00,207.14 L199.00,208.27 L200.00,209.40 L201.00,210.53 L202.00,211.64 L203.00,212.75 L204.00,213.84 L205.00,214.91 L206.00,215.97 L207.00,217.05 L208.00,218.14 L209.00,219.23 L210.00,220.31 L211.00,221.39 L212.00,222.45 L213.00,223.48 L214.00,224.48 L215.00,225.44 L216.00,226.35 L217.00,227.21 L218.00,228.00 L219.00,228.74 L220.00,229.46 L221.00,230.14 L222.00,230.80 L223.00,231.43 L224.00,232.03 L225.00,232.62 L226.00,233.19 L227.00,233.74 L228.00,234.27 L229.00,234.80 L230.00,235.30 L231.00,235.77 L232.00,236.20 L233.00,236.62 L234.00,237.03 L235.00,237.42 L236.00,237.82 L237.00,238.23 L238.00,238.66 L239.00,239.11 L240.00,239.59 L241.00,240.10 L242.00,240.67 L243.00,241.30 L244.00,241.99 L245.00,242.73 L246.00,243.51 L247.00,244.30 L248.00,245.10 L249.00,245.89 L250.00,246.66 L251.00,247.40 L252.00,248.18 L253.00,249.04 L254.00,249.91 L255.00,250.72 L256.00,251.39 L257.00,251.85 L258.00,252.06 L259.00,252.20 L260.00,252.30 L261.00,252.37 L262.00,252.40" fill="none" stroke="#e86bb4" stroke-width="1.2" stroke-linejoin="round" stroke-linecap="butt" />
<path d="M42.00,252.40 L43.00,251.62 L44.00,250.84 L45.00,250.08 L46.00,249.32 L47.00,248.57 L48.00,247.84 L49.00,247.11 L50.00,246.40 L51.00,245.70 L52.00,245.01 L53.00,244.32 L54.00,243.63 L55.00,242.94 L56.00,242.23 L57.00,241.50 L58.00,240.75 L59.00,240.00 L60.00,239.26 L61.00,238.54 L62.00,237.85 L63.00,237.20 L64.00,236.60 L65.00,236.06 L66.00,235.55 L67.00,235.09 L68.00,234.64 L69.00,234.22 L70.00,233.79 L71.00,233.36 L72.00,232.92 L73.00,232.45 L74.00,231.95 L75.00,231.40 L76.00,230.80 L77.00,230.16 L78.00,229.47 L79.00,228.76 L80.00,228.02 L81.00,227.25 L82.00,226.48 L83.00,225.70 L84.00,224.92 L85.00,224.15 L86.00,223.40 L87.00,222.66 L88.00,221.92 L89.00,221.18 L90.00,220.44 L91.00,219.70 L92.00,218.95 L93.00,218.19 L94.00,217.42 L95.00,216.63 L96.00,215.83 L97.00,215.00 L98.00,214.15 L99.00,213.29 L100.00,212.41 L101.00,211.52 L102.00,210.61 L103.00,209.68 L104.00,208.74 L105.00,207.78 L106.00,206.80 L107.00,205.81 L108.00,204.80 L109.00,203.76 L110.00,202.67 L111.00,201.55 L112.00,200.41 L113.00,199.24 L114.00,198.07 L115.00,196.90 L116.00,195.74 L117.00,194.60 L118.00,193.48 L119.00,192.40 L120.00,191.33 L121.00,190.25 L122.00,189.16 L123.00,188.08 L124.00,187.01 L125.00,185.96 L126.00,184.95 L127.00,183.97 L128.00,183.05 L129.00,182.19 L130.00,181.40 L131.00,180.65 L132.00,179.93 L133.00,179.23 L134.00,178.57 L135.00,177.94 L136.00,177.35 L137.00,176.82 L138.00,176.34 L139.00,175.92 L140.00,175.50 L141.00,175.09 L142.00,174.71 L143.00,174.38 L144.00,174.14 L145.00,174.01 L146.00,174.00 L147.00,174.00 L148.00,174.00 L149.00,174.00 L150.00,174.00 L151.00,174.00 L152.00,174.00 L153.00,174.09 L154.00,174.35 L155.00,174.73 L156.00,175.18 L157.00,175.66 L158.00,176.14 L159.00,176.57 L160.00,177.00 L161.00,177.44 L162.00,177.91 L163.00,178.39 L164.00,178.90 L165.00,179.42 L166.00,179.98 L167.00,180.56 L168.00,181.17 L169.00,181.83 L170.00,182.52 L171.00,183.26 L172.00,184.02 L173.00,184.81 L174.00,185.63 L175.00,186.47 L176.00,187.33 L177.00,188.21 L178.00,189.09 L179.00,189.98 L180.00,190.87 L181.00,191.77 L182.00,192.67 L183.00,193.58 L184.00,194.52 L185.00,195.48 L186.00,196.45 L187.00,197.44 L188.00,198.44 L189.00,199.45 L190.00,200.47 L191.00,201.50 L192.00,202.53 L193.00,203.57 L194.00,204.61 L195.00,205.67 L196.00,206.76 L197.00,207.87 L198.00,208.99 L199.00,210.13 L200.00,211.26 L201.00,212.39 L202.00,213.50 L203.00,214.60 L204.00,215.68 L205.00,216.73 L206.00,217.75 L207.00,218.78 L208.00,219.81 L209.00,220.84 L210.00,221.86 L211.00,222.87 L212.00,223.86 L213.00,224.82 L214.00,225.74 L215.00,226.63 L216.00,227.48 L217.00,228.27 L218.00,229.00 L219.00,229.68 L220.00,230.34 L221.00,230.96 L222.00,231.56 L223.00,232.13 L224.00,232.68 L225.00,233.21 L226.00,233.72 L227.00,234.23 L228.00,234.72 L229.00,235.20 L230.00,235.66 L231.00,236.09 L232.00,236.50 L233.00,236.89 L234.00,237.26 L235.00,237.64 L236.00,238.01 L237.00,238.39 L238.00,238.79 L239.00,239.20 L240.00,239.65 L241.00,240.13 L242.00,240.65 L243.00,241.24 L244.00,241.89 L245.00,242.58 L246.00,243.31 L247.00,244.04 L248.00,244.78 L249.00,245.49 L250.00,246.17 L251.00,246.80 L252.00,247.39 L253.00,247.97 L254.00,248.52 L255.00,249.07 L256.00,249.59 L257.00,250.10 L258.00,250.60 L259.00,251.07 L260.00,251.53 L261.00,251.97 L262.00,252.40" fill="none" stroke="#000" stroke-width="2.3" stroke-linejoin="round" stroke-linecap="butt" stroke-dasharray="3.2 3.3"/>
</g>
<rect x="42.00" y="142.50" width="220.00" height="109.90" fill="none" stroke="#3a3a3a" stroke-width="0.9" />
<line x1="152.00" y1="142.50" x2="152.00" y2="145.70" stroke="#3a3a3a" stroke-width="0.7" />
<line x1="152.00" y1="252.40" x2="152.00" y2="249.20" stroke="#3a3a3a" stroke-width="0.7" />
<line x1="42.00" y1="232.40" x2="45.20" y2="232.40" stroke="#3a3a3a" stroke-width="0.7" />
<line x1="262.00" y1="232.40" x2="258.80" y2="232.40" stroke="#3a3a3a" stroke-width="0.7" />
<line x1="42.00" y1="212.40" x2="45.20" y2="212.40" stroke="#3a3a3a" stroke-width="0.7" />
<line x1="262.00" y1="212.40" x2="258.80" y2="212.40" stroke="#3a3a3a" stroke-width="0.7" />
<line x1="42.00" y1="192.40" x2="45.20" y2="192.40" stroke="#3a3a3a" stroke-width="0.7" />
<line x1="262.00" y1="192.40" x2="258.80" y2="192.40" stroke="#3a3a3a" stroke-width="0.7" />
<line x1="42.00" y1="172.40" x2="45.20" y2="172.40" stroke="#3a3a3a" stroke-width="0.7" />
<line x1="262.00" y1="172.40" x2="258.80" y2="172.40" stroke="#3a3a3a" stroke-width="0.7" />
<line x1="42.00" y1="152.40" x2="45.20" y2="152.40" stroke="#3a3a3a" stroke-width="0.7" />
<line x1="262.00" y1="152.40" x2="258.80" y2="152.40" stroke="#3a3a3a" stroke-width="0.7" />
<text x="37.00" y="257.10" font-family='"Liberation Serif", serif' font-size="13.6" text-anchor="end"  >0</text>
<text x="37.00" y="237.10" font-family='"Liberation Serif", serif' font-size="13.6" text-anchor="end"  >1</text>
<text x="37.00" y="217.10" font-family='"Liberation Serif", serif' font-size="13.6" text-anchor="end"  >2</text>
<text x="37.00" y="197.10" font-family='"Liberation Serif", serif' font-size="13.6" text-anchor="end"  >3</text>
<text x="37.00" y="177.10" font-family='"Liberation Serif", serif' font-size="13.6" text-anchor="end"  >4</text>
<text x="37.00" y="157.10" font-family='"Liberation Serif", serif' font-size="13.6" text-anchor="end"  >5</text>
<g transform="translate(18.4,198.6) rotate(-90)" font-family='"Liberation Serif", serif'><text x="-7" y="0" font-size="14.6" font-style="italic">C</text><text x="2.6" y="2.6" font-size="9.8">L</text></g>
<text x="53.0" y="156.9" font-family='"Liberation Serif", serif' font-size="14.2" font-weight="bold">c.</text>
<defs><linearGradient id="gae" x1="0" x2="1" y1="0" y2="0"><stop offset="0" stop-color="#7a0033"/><stop offset="0.1" stop-color="#96003f"/><stop offset="0.2" stop-color="#b8004f"/><stop offset="0.32" stop-color="#d80f6e"/><stop offset="0.45" stop-color="#e63296"/><stop offset="0.54" stop-color="#e16eb9"/><stop offset="0.65" stop-color="#d7a0d2"/><stop offset="0.78" stop-color="#e1c8e6"/><stop offset="0.92" stop-color="#f5ebf5"/><stop offset="1" stop-color="#ffffff"/></linearGradient></defs>
<rect x="118.8" y="235.1" width="65.8" height="10.0" fill="url(#gae)" stroke="#3a3a3a" stroke-width="0.8"/>
<line x1="142.50" y1="235.10" x2="142.50" y2="237.80" stroke="#1a1a1a" stroke-width="0.7" />
<line x1="142.50" y1="245.10" x2="142.50" y2="242.40" stroke="#1a1a1a" stroke-width="0.7" />
<line x1="154.15" y1="235.10" x2="154.15" y2="237.80" stroke="#1a1a1a" stroke-width="0.7" />
<line x1="154.15" y1="245.10" x2="154.15" y2="242.40" stroke="#1a1a1a" stroke-width="0.7" />
<line x1="160.96" y1="235.10" x2="160.96" y2="237.80" stroke="#1a1a1a" stroke-width="0.7" />
<line x1="160.96" y1="245.10" x2="160.96" y2="242.40" stroke="#1a1a1a" stroke-width="0.7" />
<line x1="165.80" y1="235.10" x2="165.80" y2="237.80" stroke="#1a1a1a" stroke-width="0.7" />
<line x1="165.80" y1="245.10" x2="165.80" y2="242.40" stroke="#1a1a1a" stroke-width="0.7" />
<line x1="169.55" y1="235.10" x2="169.55" y2="237.80" stroke="#1a1a1a" stroke-width="0.7" />
<line x1="169.55" y1="245.10" x2="169.55" y2="242.40" stroke="#1a1a1a" stroke-width="0.7" />
<line x1="172.61" y1="235.10" x2="172.61" y2="237.80" stroke="#1a1a1a" stroke-width="0.7" />
<line x1="172.61" y1="245.10" x2="172.61" y2="242.40" stroke="#1a1a1a" stroke-width="0.7" />
<line x1="175.21" y1="235.10" x2="175.21" y2="237.80" stroke="#1a1a1a" stroke-width="0.7" />
<line x1="175.21" y1="245.10" x2="175.21" y2="242.40" stroke="#1a1a1a" stroke-width="0.7" />
<line x1="177.45" y1="235.10" x2="177.45" y2="237.80" stroke="#1a1a1a" stroke-width="0.7" />
<line x1="177.45" y1="245.10" x2="177.45" y2="242.40" stroke="#1a1a1a" stroke-width="0.7" />
<line x1="179.43" y1="235.10" x2="179.43" y2="237.80" stroke="#1a1a1a" stroke-width="0.7" />
<line x1="179.43" y1="245.10" x2="179.43" y2="242.40" stroke="#1a1a1a" stroke-width="0.7" />
<line x1="181.20" y1="235.10" x2="181.20" y2="237.80" stroke="#1a1a1a" stroke-width="0.7" />
<line x1="181.20" y1="245.10" x2="181.20" y2="242.40" stroke="#1a1a1a" stroke-width="0.7" />
<text x="140.40" y="229.80" font-family='"Liberation Serif", serif' font-size="13.6" text-anchor="middle">10</text>
<text x="147.30" y="224.80" font-family='"Liberation Serif", serif' font-size="9.6" text-anchor="start">0</text>
<text x="179.00" y="229.80" font-family='"Liberation Serif", serif' font-size="13.6" text-anchor="middle">10</text>
<text x="185.90" y="224.80" font-family='"Liberation Serif", serif' font-size="9.6" text-anchor="start">1</text>
<text x="113.9" y="244.6" font-family='"Liberation Serif", serif' font-size="13.8" text-anchor="end" font-style="italic">Ae</text>
<rect x="288.30" y="142.50" width="32.8" height="109.90" fill="#e4e4e4"/>
<rect x="475.50" y="142.50" width="32.8" height="109.90" fill="#e4e4e4"/>
<clipPath id="cd"><rect x="288.3" y="142.5" width="220.0" height="109.9"/></clipPath>
<g clip-path="url(#cd)">
<path d="M288.30,253.50 L289.30,253.33 L290.30,253.09 L291.30,252.78 L292.30,252.42 L293.30,252.01 L294.30,251.57 L295.30,251.10 L296.30,250.52 L297.30,249.83 L298.30,249.05 L299.30,248.22 L300.30,247.37 L301.30,246.52 L302.30,245.67 L303.30,244.77 L304.30,243.82 L305.30,242.85 L306.30,241.86 L307.30,240.88 L308.30,239.92 L309.30,238.99 L310.30,238.11 L311.30,237.29 L312.30,236.51 L313.30,235.76 L314.30,235.03 L315.30,234.31 L316.30,233.59 L317.30,232.86 L318.30,232.12 L319.30,231.34 L320.30,230.52 L321.30,229.65 L322.30,228.72 L323.30,227.74 L324.30,226.71 L325.30,225.64 L326.30,224.54 L327.30,223.42 L328.30,222.28 L329.30,221.14 L330.30,220.01 L331.30,218.88 L332.30,217.78 L333.30,216.69 L334.30,215.60 L335.30,214.50 L336.30,213.40 L337.30,212.30 L338.30,211.20 L339.30,210.10 L340.30,209.00 L341.30,207.89 L342.30,206.79 L343.30,205.69 L344.30,204.60 L345.30,203.52 L346.30,202.44 L347.30,201.36 L348.30,200.28 L349.30,199.20 L350.30,198.11 L351.30,197.01 L352.30,195.90 L353.30,194.76 L354.30,193.60 L355.30,192.42 L356.30,191.21 L357.30,189.98 L358.30,188.74 L359.30,187.48 L360.30,186.21 L361.30,184.94 L362.30,183.66 L363.30,182.39 L364.30,181.12 L365.30,179.87 L366.30,178.59 L367.30,177.27 L368.30,175.92 L369.30,174.55 L370.30,173.20 L371.30,171.87 L372.30,170.57 L373.30,169.33 L374.30,168.17 L375.30,167.10 L376.30,166.13 L377.30,165.19 L378.30,164.23 L379.30,163.27 L380.30,162.35 L381.30,161.52 L382.30,160.81 L383.30,160.25 L384.30,159.88 L385.30,159.74 L386.30,159.69 L387.30,159.64 L388.30,159.60 L389.30,159.57 L390.30,159.55 L391.30,159.54 L392.30,159.61 L393.30,160.04 L394.30,160.77 L395.30,161.72 L396.30,162.80 L397.30,163.93 L398.30,165.03 L399.30,166.19 L400.30,167.54 L401.30,169.01 L402.30,170.54 L403.30,172.08 L404.30,173.55 L405.30,174.90 L406.30,176.20 L407.30,177.47 L408.30,178.71 L409.30,179.95 L410.30,181.17 L411.30,182.39 L412.30,183.62 L413.30,184.86 L414.30,186.11 L415.30,187.36 L416.30,188.61 L417.30,189.85 L418.30,191.09 L419.30,192.33 L420.30,193.58 L421.30,194.83 L422.30,196.09 L423.30,197.36 L424.30,198.64 L425.30,199.94 L426.30,201.26 L427.30,202.59 L428.30,203.96 L429.30,205.37 L430.30,206.81 L431.30,208.28 L432.30,209.76 L433.30,211.26 L434.30,212.76 L435.30,214.25 L436.30,215.73 L437.30,217.19 L438.30,218.61 L439.30,220.00 L440.30,221.34 L441.30,222.71 L442.30,224.11 L443.30,225.53 L444.30,226.95 L445.30,228.35 L446.30,229.70 L447.30,230.99 L448.30,232.18 L449.30,233.27 L450.30,234.24 L451.30,235.05 L452.30,235.71 L453.30,236.34 L454.30,236.93 L455.30,237.50 L456.30,238.04 L457.30,238.54 L458.30,239.00 L459.30,239.42 L460.30,239.81 L461.30,240.14 L462.30,240.43 L463.30,240.67 L464.30,240.86 L465.30,241.01 L466.30,241.13 L467.30,241.23 L468.30,241.32 L469.30,241.41 L470.30,241.48 L471.30,241.56 L472.30,241.64 L473.30,241.73 L474.30,241.83 L475.30,241.96 L476.30,242.10 L477.30,242.26 L478.30,242.43 L479.30,242.62 L480.30,242.82 L481.30,243.03 L482.30,243.26 L483.30,243.50 L484.30,243.74 L485.30,244.00 L486.30,244.27 L487.30,244.55 L488.30,244.84 L489.30,245.18 L490.30,245.55 L491.30,245.95 L492.30,246.37 L493.30,246.81 L494.30,247.25 L495.30,247.69 L496.30,248.13 L497.30,248.55 L498.30,248.98 L499.30,249.43 L500.30,249.88 L501.30,250.32 L502.30,250.73 L503.30,251.11 L504.30,251.42 L505.30,251.71 L506.30,251.97 L507.30,252.20 L508.30,252.40" fill="none" stroke="#7a0033" stroke-width="1.2" stroke-linejoin="round" stroke-linecap="butt" />
<path d="M288.30,253.50 L289.30,253.25 L290.30,252.93 L291.30,252.54 L292.30,252.10 L293.30,251.61 L294.30,251.08 L295.30,250.52 L296.30,249.84 L297.30,249.06 L298.30,248.20 L299.30,247.29 L300.30,246.36 L301.30,245.44 L302.30,244.51 L303.30,243.52 L304.30,242.49 L305.30,241.43 L306.30,240.37 L307.30,239.32 L308.30,238.31 L309.30,237.35 L310.30,236.46 L311.30,235.66 L312.30,234.91 L313.30,234.20 L314.30,233.52 L315.30,232.86 L316.30,232.21 L317.30,231.55 L318.30,230.87 L319.30,230.15 L320.30,229.38 L321.30,228.55 L322.30,227.65 L323.30,226.69 L324.30,225.66 L325.30,224.59 L326.30,223.49 L327.30,222.36 L328.30,221.21 L329.30,220.06 L330.30,218.92 L331.30,217.79 L332.30,216.68 L333.30,215.59 L334.30,214.51 L335.30,213.42 L336.30,212.33 L337.30,211.23 L338.30,210.14 L339.30,209.04 L340.30,207.94 L341.30,206.83 L342.30,205.71 L343.30,204.59 L344.30,203.47 L345.30,202.34 L346.30,201.22 L347.30,200.08 L348.30,198.95 L349.30,197.80 L350.30,196.65 L351.30,195.49 L352.30,194.32 L353.30,193.15 L354.30,191.96 L355.30,190.75 L356.30,189.53 L357.30,188.29 L358.30,187.04 L359.30,185.79 L360.30,184.53 L361.30,183.26 L362.30,182.00 L363.30,180.73 L364.30,179.47 L365.30,178.22 L366.30,176.94 L367.30,175.62 L368.30,174.27 L369.30,172.91 L370.30,171.55 L371.30,170.22 L372.30,168.92 L373.30,167.69 L374.30,166.52 L375.30,165.45 L376.30,164.48 L377.30,163.56 L378.30,162.63 L379.30,161.71 L380.30,160.84 L381.30,160.04 L382.30,159.33 L383.30,158.75 L384.30,158.32 L385.30,158.07 L386.30,157.88 L387.30,157.72 L388.30,157.57 L389.30,157.46 L390.30,157.38 L391.30,157.34 L392.30,157.39 L393.30,157.73 L394.30,158.29 L395.30,159.04 L396.30,159.90 L397.30,160.82 L398.30,161.73 L399.30,162.75 L400.30,164.00 L401.30,165.39 L402.30,166.86 L403.30,168.33 L404.30,169.74 L405.30,171.03 L406.30,172.25 L407.30,173.45 L408.30,174.64 L409.30,175.80 L410.30,176.96 L411.30,178.13 L412.30,179.30 L413.30,180.48 L414.30,181.69 L415.30,182.89 L416.30,184.08 L417.30,185.27 L418.30,186.47 L419.30,187.66 L420.30,188.87 L421.30,190.08 L422.30,191.30 L423.30,192.54 L424.30,193.79 L425.30,195.05 L426.30,196.34 L427.30,197.65 L428.30,199.00 L429.30,200.39 L430.30,201.81 L431.30,203.27 L432.30,204.75 L433.30,206.24 L434.30,207.74 L435.30,209.23 L436.30,210.72 L437.30,212.19 L438.30,213.63 L439.30,215.04 L440.30,216.40 L441.30,217.79 L442.30,219.20 L443.30,220.62 L444.30,222.04 L445.30,223.44 L446.30,224.81 L447.30,226.13 L448.30,227.38 L449.30,228.55 L450.30,229.62 L451.30,230.57 L452.30,231.42 L453.30,232.22 L454.30,233.01 L455.30,233.76 L456.30,234.49 L457.30,235.18 L458.30,235.82 L459.30,236.43 L460.30,236.98 L461.30,237.49 L462.30,237.94 L463.30,238.33 L464.30,238.66 L465.30,238.94 L466.30,239.19 L467.30,239.41 L468.30,239.61 L469.30,239.80 L470.30,239.97 L471.30,240.14 L472.30,240.31 L473.30,240.48 L474.30,240.66 L475.30,240.86 L476.30,241.06 L477.30,241.26 L478.30,241.45 L479.30,241.65 L480.30,241.84 L481.30,242.03 L482.30,242.24 L483.30,242.45 L484.30,242.67 L485.30,242.91 L486.30,243.17 L487.30,243.45 L488.30,243.75 L489.30,244.12 L490.30,244.53 L491.30,244.99 L492.30,245.48 L493.30,245.99 L494.30,246.50 L495.30,247.02 L496.30,247.52 L497.30,248.00 L498.30,248.48 L499.30,248.98 L500.30,249.48 L501.30,249.97 L502.30,250.43 L503.30,250.85 L504.30,251.22 L505.30,251.56 L506.30,251.87 L507.30,252.15 L508.30,252.40" fill="none" stroke="#a3004b" stroke-width="1.2" stroke-linejoin="round" stroke-linecap="butt" />
<path d="M288.30,252.40 L289.30,252.22 L290.30,251.92 L291.30,251.54 L292.30,251.08 L293.30,250.56 L294.30,250.00 L295.30,249.40 L296.30,248.62 L297.30,247.67 L298.30,246.61 L299.30,245.49 L300.30,244.35 L301.30,243.27 L302.30,242.21 L303.30,241.11 L304.30,239.97 L305.30,238.81 L306.30,237.67 L307.30,236.57 L308.30,235.53 L309.30,234.57 L310.30,233.72 L311.30,232.97 L312.30,232.29 L313.30,231.67 L314.30,231.09 L315.30,230.54 L316.30,230.00 L317.30,229.45 L318.30,228.88 L319.30,228.28 L320.30,227.62 L321.30,226.90 L322.30,226.11 L323.30,225.26 L324.30,224.35 L325.30,223.40 L326.30,222.41 L327.30,221.39 L328.30,220.34 L329.30,219.29 L330.30,218.23 L331.30,217.18 L332.30,216.13 L333.30,215.09 L334.30,214.03 L335.30,212.97 L336.30,211.88 L337.30,210.79 L338.30,209.69 L339.30,208.58 L340.30,207.45 L341.30,206.32 L342.30,205.19 L343.30,204.04 L344.30,202.89 L345.30,201.72 L346.30,200.54 L347.30,199.36 L348.30,198.16 L349.30,196.95 L350.30,195.74 L351.30,194.52 L352.30,193.30 L353.30,192.08 L354.30,190.86 L355.30,189.63 L356.30,188.39 L357.30,187.15 L358.30,185.90 L359.30,184.65 L360.30,183.39 L361.30,182.14 L362.30,180.88 L363.30,179.62 L364.30,178.37 L365.30,177.12 L366.30,175.84 L367.30,174.52 L368.30,173.17 L369.30,171.81 L370.30,170.45 L371.30,169.12 L372.30,167.82 L373.30,166.59 L374.30,165.42 L375.30,164.35 L376.30,163.38 L377.30,162.47 L378.30,161.57 L379.30,160.69 L380.30,159.85 L381.30,159.07 L382.30,158.38 L383.30,157.78 L384.30,157.30 L385.30,156.95 L386.30,156.65 L387.30,156.37 L388.30,156.12 L389.30,155.91 L390.30,155.77 L391.30,155.69 L392.30,155.72 L393.30,155.92 L394.30,156.26 L395.30,156.71 L396.30,157.25 L397.30,157.83 L398.30,158.44 L399.30,159.17 L400.30,160.12 L401.30,161.24 L402.30,162.45 L403.30,163.69 L404.30,164.90 L405.30,166.02 L406.30,167.12 L407.30,168.23 L408.30,169.33 L409.30,170.45 L410.30,171.57 L411.30,172.70 L412.30,173.85 L413.30,175.00 L414.30,176.17 L415.30,177.35 L416.30,178.52 L417.30,179.71 L418.30,180.90 L419.30,182.10 L420.30,183.31 L421.30,184.53 L422.30,185.76 L423.30,187.01 L424.30,188.27 L425.30,189.55 L426.30,190.84 L427.30,192.16 L428.30,193.50 L429.30,194.88 L430.30,196.29 L431.30,197.73 L432.30,199.19 L433.30,200.67 L434.30,202.15 L435.30,203.64 L436.30,205.13 L437.30,206.60 L438.30,208.06 L439.30,209.50 L440.30,210.92 L441.30,212.36 L442.30,213.82 L443.30,215.31 L444.30,216.80 L445.30,218.27 L446.30,219.72 L447.30,221.14 L448.30,222.49 L449.30,223.78 L450.30,224.99 L451.30,226.10 L452.30,227.11 L453.30,228.11 L454.30,229.09 L455.30,230.05 L456.30,230.98 L457.30,231.88 L458.30,232.73 L459.30,233.53 L460.30,234.26 L461.30,234.93 L462.30,235.53 L463.30,236.04 L464.30,236.46 L465.30,236.82 L466.30,237.14 L467.30,237.42 L468.30,237.68 L469.30,237.92 L470.30,238.14 L471.30,238.35 L472.30,238.56 L473.30,238.77 L474.30,238.99 L475.30,239.21 L476.30,239.44 L477.30,239.65 L478.30,239.84 L479.30,240.03 L480.30,240.22 L481.30,240.41 L482.30,240.60 L483.30,240.80 L484.30,241.02 L485.30,241.25 L486.30,241.51 L487.30,241.79 L488.30,242.11 L489.30,242.50 L490.30,242.95 L491.30,243.45 L492.30,244.00 L493.30,244.57 L494.30,245.16 L495.30,245.75 L496.30,246.34 L497.30,246.91 L498.30,247.48 L499.30,248.10 L500.30,248.73 L501.30,249.34 L502.30,249.93 L503.30,250.47 L504.30,250.93 L505.30,251.35 L506.30,251.74 L507.30,252.09 L508.30,252.40" fill="none" stroke="#c40764" stroke-width="1.2" stroke-linejoin="round" stroke-linecap="butt" />
<path d="M288.30,252.40 L289.30,252.13 L290.30,251.76 L291.30,251.30 L292.30,250.76 L293.30,250.16 L294.30,249.51 L295.30,248.81 L296.30,247.93 L297.30,246.89 L298.30,245.73 L299.30,244.53 L300.30,243.32 L301.30,242.18 L302.30,241.08 L303.30,239.95 L304.30,238.78 L305.30,237.62 L306.30,236.48 L307.30,235.39 L308.30,234.36 L309.30,233.43 L310.30,232.62 L311.30,231.91 L312.30,231.28 L313.30,230.71 L314.30,230.19 L315.30,229.69 L316.30,229.20 L317.30,228.71 L318.30,228.19 L319.30,227.64 L320.30,227.03 L321.30,226.35 L322.30,225.59 L323.30,224.76 L324.30,223.86 L325.30,222.91 L326.30,221.91 L327.30,220.88 L328.30,219.83 L329.30,218.76 L330.30,217.69 L331.30,216.63 L332.30,215.58 L333.30,214.54 L334.30,213.48 L335.30,212.42 L336.30,211.33 L337.30,210.24 L338.30,209.14 L339.30,208.03 L340.30,206.91 L341.30,205.78 L342.30,204.64 L343.30,203.49 L344.30,202.34 L345.30,201.17 L346.30,200.00 L347.30,198.81 L348.30,197.61 L349.30,196.40 L350.30,195.19 L351.30,193.97 L352.30,192.75 L353.30,191.53 L354.30,190.31 L355.30,189.08 L356.30,187.84 L357.30,186.60 L358.30,185.35 L359.30,184.10 L360.30,182.84 L361.30,181.59 L362.30,180.33 L363.30,179.07 L364.30,177.82 L365.30,176.57 L366.30,175.29 L367.30,173.97 L368.30,172.62 L369.30,171.26 L370.30,169.90 L371.30,168.57 L372.30,167.27 L373.30,166.04 L374.30,164.87 L375.30,163.80 L376.30,162.83 L377.30,161.93 L378.30,161.05 L379.30,160.20 L380.30,159.39 L381.30,158.64 L382.30,157.95 L383.30,157.34 L384.30,156.81 L385.30,156.38 L386.30,155.97 L387.30,155.58 L388.30,155.23 L389.30,154.93 L390.30,154.71 L391.30,154.60 L392.30,154.61 L393.30,154.72 L394.30,154.91 L395.30,155.18 L396.30,155.49 L397.30,155.85 L398.30,156.24 L399.30,156.77 L400.30,157.54 L401.30,158.49 L402.30,159.54 L403.30,160.63 L404.30,161.69 L405.30,162.66 L406.30,163.62 L407.30,164.59 L408.30,165.57 L409.30,166.56 L410.30,167.56 L411.30,168.57 L412.30,169.60 L413.30,170.65 L414.30,171.71 L415.30,172.78 L416.30,173.86 L417.30,174.95 L418.30,176.05 L419.30,177.16 L420.30,178.29 L421.30,179.43 L422.30,180.58 L423.30,181.76 L424.30,182.96 L425.30,184.17 L426.30,185.41 L427.30,186.68 L428.30,187.97 L429.30,189.31 L430.30,190.70 L431.30,192.11 L432.30,193.56 L433.30,195.02 L434.30,196.51 L435.30,198.00 L436.30,199.50 L437.30,201.00 L438.30,202.49 L439.30,203.97 L440.30,205.43 L441.30,206.92 L442.30,208.45 L443.30,209.99 L444.30,211.55 L445.30,213.11 L446.30,214.65 L447.30,216.16 L448.30,217.62 L449.30,219.03 L450.30,220.37 L451.30,221.63 L452.30,222.81 L453.30,223.98 L454.30,225.16 L455.30,226.32 L456.30,227.46 L457.30,228.56 L458.30,229.62 L459.30,230.61 L460.30,231.53 L461.30,232.37 L462.30,233.12 L463.30,233.75 L464.30,234.27 L465.30,234.70 L466.30,235.08 L467.30,235.43 L468.30,235.75 L469.30,236.05 L470.30,236.32 L471.30,236.58 L472.30,236.83 L473.30,237.07 L474.30,237.31 L475.30,237.56 L476.30,237.80 L477.30,238.02 L478.30,238.22 L479.30,238.41 L480.30,238.60 L481.30,238.78 L482.30,238.96 L483.30,239.16 L484.30,239.37 L485.30,239.60 L486.30,239.85 L487.30,240.14 L488.30,240.47 L489.30,240.88 L490.30,241.38 L491.30,241.93 L492.30,242.54 L493.30,243.18 L494.30,243.84 L495.30,244.51 L496.30,245.17 L497.30,245.81 L498.30,246.45 L499.30,247.14 L500.30,247.84 L501.30,248.54 L502.30,249.22 L503.30,249.85 L504.30,250.43 L505.30,250.96 L506.30,251.47 L507.30,251.95 L508.30,252.40" fill="none" stroke="#d81b7a" stroke-width="1.2" stroke-linejoin="round" stroke-linecap="butt" />
<path d="M288.30,253.50 L289.30,253.30 L290.30,253.04 L291.30,252.73 L292.30,252.38 L293.30,251.98 L294.30,251.56 L295.30,251.12 L296.30,250.59 L297.30,249.98 L298.30,249.30 L299.30,248.58 L300.30,247.83 L301.30,247.06 L302.30,246.26 L303.30,245.39 L304.30,244.46 L305.30,243.49 L306.30,242.50 L307.30,241.50 L308.30,240.52 L309.30,239.57 L310.30,238.66 L311.30,237.80 L312.30,236.98 L313.30,236.17 L314.30,235.38 L315.30,234.60 L316.30,233.81 L317.30,233.03 L318.30,232.22 L319.30,231.40 L320.30,230.54 L321.30,229.65 L322.30,228.72 L323.30,227.74 L324.30,226.74 L325.30,225.71 L326.30,224.66 L327.30,223.60 L328.30,222.53 L329.30,221.46 L330.30,220.40 L331.30,219.36 L332.30,218.33 L333.30,217.32 L334.30,216.33 L335.30,215.34 L336.30,214.35 L337.30,213.37 L338.30,212.39 L339.30,211.40 L340.30,210.40 L341.30,209.40 L342.30,208.38 L343.30,207.34 L344.30,206.29 L345.30,205.23 L346.30,204.16 L347.30,203.07 L348.30,201.98 L349.30,200.88 L350.30,199.77 L351.30,198.66 L352.30,197.53 L353.30,196.39 L354.30,195.25 L355.30,194.10 L356.30,192.93 L357.30,191.75 L358.30,190.56 L359.30,189.37 L360.30,188.16 L361.30,186.95 L362.30,185.73 L363.30,184.51 L364.30,183.29 L365.30,182.06 L366.30,180.82 L367.30,179.53 L368.30,178.21 L369.30,176.88 L370.30,175.55 L371.30,174.24 L372.30,172.95 L373.30,171.70 L374.30,170.50 L375.30,169.38 L376.30,168.33 L377.30,167.34 L378.30,166.37 L379.30,165.44 L380.30,164.55 L381.30,163.69 L382.30,162.87 L383.30,162.11 L384.30,161.39 L385.30,160.72 L386.30,160.09 L387.30,159.47 L388.30,158.90 L389.30,158.36 L390.30,157.89 L391.30,157.48 L392.30,157.13 L393.30,156.78 L394.30,156.45 L395.30,156.15 L396.30,155.91 L397.30,155.75 L398.30,155.69 L399.30,155.81 L400.30,156.15 L401.30,156.66 L402.30,157.27 L403.30,157.94 L404.30,158.60 L405.30,159.23 L406.30,159.90 L407.30,160.63 L408.30,161.41 L409.30,162.22 L410.30,163.08 L411.30,163.96 L412.30,164.85 L413.30,165.76 L414.30,166.68 L415.30,167.62 L416.30,168.57 L417.30,169.55 L418.30,170.55 L419.30,171.57 L420.30,172.62 L421.30,173.68 L422.30,174.78 L423.30,175.90 L424.30,177.04 L425.30,178.21 L426.30,179.41 L427.30,180.64 L428.30,181.91 L429.30,183.24 L430.30,184.63 L431.30,186.07 L432.30,187.55 L433.30,189.06 L434.30,190.61 L435.30,192.16 L436.30,193.73 L437.30,195.30 L438.30,196.87 L439.30,198.42 L440.30,199.95 L441.30,201.51 L442.30,203.11 L443.30,204.74 L444.30,206.38 L445.30,208.03 L446.30,209.66 L447.30,211.26 L448.30,212.83 L449.30,214.35 L450.30,215.80 L451.30,217.18 L452.30,218.48 L453.30,219.79 L454.30,221.11 L455.30,222.42 L456.30,223.71 L457.30,224.96 L458.30,226.17 L459.30,227.31 L460.30,228.36 L461.30,229.33 L462.30,230.19 L463.30,230.92 L464.30,231.52 L465.30,232.02 L466.30,232.48 L467.30,232.89 L468.30,233.27 L469.30,233.62 L470.30,233.95 L471.30,234.26 L472.30,234.55 L473.30,234.82 L474.30,235.10 L475.30,235.37 L476.30,235.62 L477.30,235.85 L478.30,236.05 L479.30,236.25 L480.30,236.43 L481.30,236.61 L482.30,236.79 L483.30,236.98 L484.30,237.18 L485.30,237.41 L486.30,237.66 L487.30,237.94 L488.30,238.27 L489.30,238.67 L490.30,239.14 L491.30,239.68 L492.30,240.26 L493.30,240.89 L494.30,241.54 L495.30,242.22 L496.30,242.91 L497.30,243.61 L498.30,244.37 L499.30,245.23 L500.30,246.14 L501.30,247.06 L502.30,247.93 L503.30,248.70 L504.30,249.35 L505.30,249.92 L506.30,250.44 L507.30,250.90 L508.30,251.30" fill="none" stroke="#e5399a" stroke-width="1.2" stroke-linejoin="round" stroke-linecap="butt" />
<path d="M288.30,253.50 L289.30,253.38 L290.30,253.20 L291.30,252.97 L292.30,252.70 L293.30,252.39 L294.30,252.06 L295.30,251.70 L296.30,251.26 L297.30,250.74 L298.30,250.15 L299.30,249.51 L300.30,248.83 L301.30,248.14 L302.30,247.42 L303.30,246.63 L304.30,245.78 L305.30,244.88 L306.30,243.96 L307.30,243.02 L308.30,242.09 L309.30,241.18 L310.30,240.31 L311.30,239.48 L312.30,238.66 L313.30,237.86 L314.30,237.08 L315.30,236.29 L316.30,235.50 L317.30,234.70 L318.30,233.89 L319.30,233.05 L320.30,232.19 L321.30,231.30 L322.30,230.36 L323.30,229.39 L324.30,228.37 L325.30,227.33 L326.30,226.28 L327.30,225.21 L328.30,224.14 L329.30,223.07 L330.30,222.02 L331.30,220.98 L332.30,219.98 L333.30,219.00 L334.30,218.04 L335.30,217.10 L336.30,216.16 L337.30,215.24 L338.30,214.31 L339.30,213.38 L340.30,212.44 L341.30,211.49 L342.30,210.52 L343.30,209.54 L344.30,208.54 L345.30,207.53 L346.30,206.50 L347.30,205.47 L348.30,204.43 L349.30,203.38 L350.30,202.32 L351.30,201.25 L352.30,200.18 L353.30,199.09 L354.30,198.00 L355.30,196.90 L356.30,195.78 L357.30,194.65 L358.30,193.51 L359.30,192.36 L360.30,191.21 L361.30,190.04 L362.30,188.88 L363.30,187.71 L364.30,186.53 L365.30,185.36 L366.30,184.17 L367.30,182.95 L368.30,181.70 L369.30,180.45 L370.30,179.20 L371.30,177.95 L372.30,176.72 L373.30,175.52 L374.30,174.35 L375.30,173.23 L376.30,172.17 L377.30,171.15 L378.30,170.14 L379.30,169.16 L380.30,168.20 L381.30,167.28 L382.30,166.39 L383.30,165.55 L384.30,164.75 L385.30,164.01 L386.30,163.30 L387.30,162.63 L388.30,161.99 L389.30,161.38 L390.30,160.82 L391.30,160.29 L392.30,159.77 L393.30,159.22 L394.30,158.67 L395.30,158.15 L396.30,157.73 L397.30,157.44 L398.30,157.34 L399.30,157.37 L400.30,157.47 L401.30,157.63 L402.30,157.82 L403.30,158.04 L404.30,158.29 L405.30,158.54 L406.30,158.89 L407.30,159.33 L408.30,159.84 L409.30,160.42 L410.30,161.05 L411.30,161.72 L412.30,162.41 L413.30,163.10 L414.30,163.80 L415.30,164.54 L416.30,165.32 L417.30,166.14 L418.30,167.00 L419.30,167.89 L420.30,168.82 L421.30,169.78 L422.30,170.78 L423.30,171.82 L424.30,172.88 L425.30,173.98 L426.30,175.11 L427.30,176.26 L428.30,177.47 L429.30,178.77 L430.30,180.15 L431.30,181.61 L432.30,183.13 L433.30,184.69 L434.30,186.30 L435.30,187.93 L436.30,189.58 L437.30,191.24 L438.30,192.89 L439.30,194.52 L440.30,196.12 L441.30,197.75 L442.30,199.43 L443.30,201.15 L444.30,202.89 L445.30,204.63 L446.30,206.36 L447.30,208.07 L448.30,209.74 L449.30,211.36 L450.30,212.92 L451.30,214.39 L452.30,215.79 L453.30,217.20 L454.30,218.62 L455.30,220.05 L456.30,221.45 L457.30,222.82 L458.30,224.13 L459.30,225.37 L460.30,226.51 L461.30,227.56 L462.30,228.48 L463.30,229.25 L464.30,229.87 L465.30,230.38 L466.30,230.84 L467.30,231.26 L468.30,231.64 L469.30,231.99 L470.30,232.31 L471.30,232.62 L472.30,232.90 L473.30,233.18 L474.30,233.45 L475.30,233.72 L476.30,233.97 L477.30,234.20 L478.30,234.40 L479.30,234.59 L480.30,234.77 L481.30,234.94 L482.30,235.12 L483.30,235.31 L484.30,235.52 L485.30,235.74 L486.30,236.00 L487.30,236.29 L488.30,236.63 L489.30,237.06 L490.30,237.57 L491.30,238.15 L492.30,238.80 L493.30,239.49 L494.30,240.22 L495.30,240.98 L496.30,241.74 L497.30,242.51 L498.30,243.34 L499.30,244.27 L500.30,245.25 L501.30,246.25 L502.30,247.21 L503.30,248.09 L504.30,248.84 L505.30,249.53 L506.30,250.18 L507.30,250.77 L508.30,251.30" fill="none" stroke="#ea52a8" stroke-width="1.2" stroke-linejoin="round" stroke-linecap="butt" />
<path d="M288.30,252.40 L289.30,252.33 L290.30,252.13 L291.30,251.82 L292.30,251.43 L293.30,250.99 L294.30,250.50 L295.30,249.98 L296.30,249.24 L297.30,248.29 L298.30,247.20 L299.30,246.05 L300.30,244.90 L301.30,243.81 L302.30,242.80 L303.30,241.75 L304.30,240.69 L305.30,239.63 L306.30,238.58 L307.30,237.56 L308.30,236.59 L309.30,235.66 L310.30,234.82 L311.30,234.04 L312.30,233.33 L313.30,232.66 L314.30,232.03 L315.30,231.42 L316.30,230.82 L317.30,230.21 L318.30,229.58 L319.30,228.92 L320.30,228.21 L321.30,227.45 L322.30,226.63 L323.30,225.74 L324.30,224.81 L325.30,223.84 L326.30,222.84 L327.30,221.82 L328.30,220.79 L329.30,219.74 L330.30,218.71 L331.30,217.68 L332.30,216.68 L333.30,215.70 L334.30,214.71 L335.30,213.73 L336.30,212.75 L337.30,211.76 L338.30,210.77 L339.30,209.78 L340.30,208.77 L341.30,207.76 L342.30,206.73 L343.30,205.69 L344.30,204.64 L345.30,203.58 L346.30,202.51 L347.30,201.43 L348.30,200.33 L349.30,199.23 L350.30,198.13 L351.30,197.01 L352.30,195.88 L353.30,194.75 L354.30,193.60 L355.30,192.45 L356.30,191.28 L357.30,190.10 L358.30,188.91 L359.30,187.72 L360.30,186.51 L361.30,185.30 L362.30,184.08 L363.30,182.86 L364.30,181.64 L365.30,180.42 L366.30,179.16 L367.30,177.87 L368.30,176.54 L369.30,175.19 L370.30,173.85 L371.30,172.52 L372.30,171.22 L373.30,169.98 L374.30,168.79 L375.30,167.69 L376.30,166.68 L377.30,165.72 L378.30,164.77 L379.30,163.84 L380.30,162.95 L381.30,162.12 L382.30,161.36 L383.30,160.69 L384.30,160.12 L385.30,159.67 L386.30,159.26 L387.30,158.87 L388.30,158.52 L389.30,158.22 L390.30,158.01 L391.30,157.90 L392.30,157.90 L393.30,157.97 L394.30,158.09 L395.30,158.26 L396.30,158.47 L397.30,158.72 L398.30,158.99 L399.30,159.42 L400.30,160.10 L401.30,160.97 L402.30,161.95 L403.30,162.97 L404.30,163.94 L405.30,164.82 L406.30,165.67 L407.30,166.52 L408.30,167.37 L409.30,168.23 L410.30,169.10 L411.30,169.98 L412.30,170.88 L413.30,171.80 L414.30,172.74 L415.30,173.68 L416.30,174.63 L417.30,175.59 L418.30,176.57 L419.30,177.55 L420.30,178.55 L421.30,179.56 L422.30,180.60 L423.30,181.66 L424.30,182.74 L425.30,183.85 L426.30,184.98 L427.30,186.15 L428.30,187.36 L429.30,188.61 L430.30,189.90 L431.30,191.24 L432.30,192.61 L433.30,194.02 L434.30,195.45 L435.30,196.90 L436.30,198.37 L437.30,199.86 L438.30,201.35 L439.30,202.85 L440.30,204.34 L441.30,205.88 L442.30,207.45 L443.30,209.06 L444.30,210.69 L445.30,212.34 L446.30,214.00 L447.30,215.65 L448.30,217.29 L449.30,218.90 L450.30,220.49 L451.30,222.03 L452.30,223.55 L453.30,225.11 L454.30,226.72 L455.30,228.35 L456.30,229.97 L457.30,231.58 L458.30,233.14 L459.30,234.63 L460.30,236.03 L461.30,237.32 L462.30,238.48 L463.30,239.49 L464.30,240.31 L465.30,241.03 L466.30,241.74 L467.30,242.42 L468.30,243.07 L469.30,243.67 L470.30,244.21 L471.30,244.70 L472.30,245.11 L473.30,245.43 L474.30,245.67 L475.30,245.81 L476.30,245.88 L477.30,245.94 L478.30,245.99 L479.30,246.03 L480.30,246.06 L481.30,246.09 L482.30,246.12 L483.30,246.14 L484.30,246.18 L485.30,246.21 L486.30,246.26 L487.30,246.32 L488.30,246.39 L489.30,246.49 L490.30,246.61 L491.30,246.75 L492.30,246.92 L493.30,247.10 L494.30,247.31 L495.30,247.52 L496.30,247.76 L497.30,248.00 L498.30,248.30 L499.30,248.69 L500.30,249.12 L501.30,249.59 L502.30,250.06 L503.30,250.51 L504.30,250.91 L505.30,251.29 L506.30,251.67 L507.30,252.04 L508.30,252.40" fill="none" stroke="#e86bb4" stroke-width="1.2" stroke-linejoin="round" stroke-linecap="butt" />
<path d="M288.30,252.40 L289.30,251.77 L290.30,251.12 L291.30,250.47 L292.30,249.80 L293.30,249.12 L294.30,248.43 L295.30,247.72 L296.30,246.99 L297.30,246.25 L298.30,245.49 L299.30,244.73 L300.30,243.97 L301.30,243.21 L302.30,242.46 L303.30,241.72 L304.30,240.97 L305.30,240.23 L306.30,239.49 L307.30,238.74 L308.30,237.99 L309.30,237.23 L310.30,236.46 L311.30,235.69 L312.30,234.92 L313.30,234.14 L314.30,233.35 L315.30,232.57 L316.30,231.77 L317.30,230.97 L318.30,230.16 L319.30,229.34 L320.30,228.51 L321.30,227.67 L322.30,226.82 L323.30,225.97 L324.30,225.11 L325.30,224.24 L326.30,223.37 L327.30,222.48 L328.30,221.57 L329.30,220.65 L330.30,219.72 L331.30,218.76 L332.30,217.78 L333.30,216.78 L334.30,215.74 L335.30,214.69 L336.30,213.61 L337.30,212.51 L338.30,211.39 L339.30,210.27 L340.30,209.13 L341.30,207.99 L342.30,206.84 L343.30,205.69 L344.30,204.54 L345.30,203.37 L346.30,202.19 L347.30,201.00 L348.30,199.81 L349.30,198.60 L350.30,197.39 L351.30,196.17 L352.30,194.95 L353.30,193.73 L354.30,192.50 L355.30,191.27 L356.30,190.03 L357.30,188.78 L358.30,187.53 L359.30,186.27 L360.30,185.00 L361.30,183.74 L362.30,182.49 L363.30,181.24 L364.30,180.00 L365.30,178.77 L366.30,177.54 L367.30,176.30 L368.30,175.06 L369.30,173.83 L370.30,172.60 L371.30,171.38 L372.30,170.17 L373.30,168.98 L374.30,167.82 L375.30,166.68 L376.30,165.58 L377.30,164.48 L378.30,163.38 L379.30,162.28 L380.30,161.21 L381.30,160.17 L382.30,159.18 L383.30,158.25 L384.30,157.40 L385.30,156.64 L386.30,155.92 L387.30,155.22 L388.30,154.57 L389.30,153.98 L390.30,153.47 L391.30,153.07 L392.30,152.76 L393.30,152.47 L394.30,152.20 L395.30,151.97 L396.30,151.79 L397.30,151.67 L398.30,151.62 L399.30,151.69 L400.30,151.86 L401.30,152.13 L402.30,152.46 L403.30,152.84 L404.30,153.25 L405.30,153.66 L406.30,154.16 L407.30,154.76 L408.30,155.44 L409.30,156.20 L410.30,157.02 L411.30,157.89 L412.30,158.79 L413.30,159.71 L414.30,160.66 L415.30,161.68 L416.30,162.78 L417.30,163.94 L418.30,165.17 L419.30,166.45 L420.30,167.78 L421.30,169.15 L422.30,170.55 L423.30,171.98 L424.30,173.43 L425.30,174.89 L426.30,176.36 L427.30,177.84 L428.30,179.32 L429.30,180.86 L430.30,182.45 L431.30,184.09 L432.30,185.76 L433.30,187.45 L434.30,189.17 L435.30,190.90 L436.30,192.63 L437.30,194.35 L438.30,196.07 L439.30,197.76 L440.30,199.43 L441.30,201.12 L442.30,202.83 L443.30,204.56 L444.30,206.30 L445.30,208.03 L446.30,209.75 L447.30,211.44 L448.30,213.09 L449.30,214.69 L450.30,216.22 L451.30,217.69 L452.30,219.08 L453.30,220.45 L454.30,221.80 L455.30,223.13 L456.30,224.43 L457.30,225.70 L458.30,226.94 L459.30,228.12 L460.30,229.26 L461.30,230.33 L462.30,231.35 L463.30,232.30 L464.30,233.17 L465.30,233.99 L466.30,234.78 L467.30,235.54 L468.30,236.28 L469.30,236.97 L470.30,237.63 L471.30,238.26 L472.30,238.84 L473.30,239.37 L474.30,239.87 L475.30,240.31 L476.30,240.71 L477.30,241.07 L478.30,241.40 L479.30,241.71 L480.30,242.00 L481.30,242.27 L482.30,242.53 L483.30,242.80 L484.30,243.07 L485.30,243.35 L486.30,243.65 L487.30,243.97 L488.30,244.32 L489.30,244.69 L490.30,245.08 L491.30,245.48 L492.30,245.90 L493.30,246.32 L494.30,246.74 L495.30,247.17 L496.30,247.59 L497.30,248.00 L498.30,248.42 L499.30,248.84 L500.30,249.27 L501.30,249.69 L502.30,250.11 L503.30,250.51 L504.30,250.91 L505.30,251.29 L506.30,251.67 L507.30,252.04 L508.30,252.40" fill="none" stroke="#000" stroke-width="2.3" stroke-linejoin="round" stroke-linecap="butt" stroke-dasharray="3.2 3.3"/>
</g>
<rect x="288.30" y="142.50" width="220.00" height="109.90" fill="none" stroke="#3a3a3a" stroke-width="0.9" />
<line x1="398.30" y1="142.50" x2="398.30" y2="145.70" stroke="#3a3a3a" stroke-width="0.7" />
<line x1="398.30" y1="252.40" x2="398.30" y2="249.20" stroke="#3a3a3a" stroke-width="0.7" />
<line x1="288.30" y1="230.42" x2="291.50" y2="230.42" stroke="#3a3a3a" stroke-width="0.7" />
<line x1="508.30" y1="230.42" x2="505.10" y2="230.42" stroke="#3a3a3a" stroke-width="0.7" />
<line x1="288.30" y1="208.44" x2="291.50" y2="208.44" stroke="#3a3a3a" stroke-width="0.7" />
<line x1="508.30" y1="208.44" x2="505.10" y2="208.44" stroke="#3a3a3a" stroke-width="0.7" />
<line x1="288.30" y1="186.46" x2="291.50" y2="186.46" stroke="#3a3a3a" stroke-width="0.7" />
<line x1="508.30" y1="186.46" x2="505.10" y2="186.46" stroke="#3a3a3a" stroke-width="0.7" />
<line x1="288.30" y1="164.48" x2="291.50" y2="164.48" stroke="#3a3a3a" stroke-width="0.7" />
<line x1="508.30" y1="164.48" x2="505.10" y2="164.48" stroke="#3a3a3a" stroke-width="0.7" />
<text x="513.30" y="257.20" font-family='"Liberation Serif", serif' font-size="13.6" text-anchor="start"  >0</text>
<text x="513.30" y="235.22" font-family='"Liberation Serif", serif' font-size="13.6" text-anchor="start"  >2</text>
<text x="513.30" y="213.24" font-family='"Liberation Serif", serif' font-size="13.6" text-anchor="start"  >4</text>
<text x="513.30" y="191.26" font-family='"Liberation Serif", serif' font-size="13.6" text-anchor="start"  >6</text>
<text x="513.30" y="169.28" font-family='"Liberation Serif", serif' font-size="13.6" text-anchor="start"  >8</text>
<text x="513.30" y="147.30" font-family='"Liberation Serif", serif' font-size="13.6" text-anchor="start"  >10</text>
<g transform="translate(539.9,199.6) rotate(90)" font-family='"Liberation Serif", serif'><text x="-9.6" y="0" font-size="14.6" font-style="italic">C</text><text x="0.3" y="3.6" font-size="9.8">P</text></g>
<text x="299.2" y="156.9" font-family='"Liberation Serif", serif' font-size="14.2" font-weight="bold">d.</text>
<clipPath id="ke1"><rect x="42.0" y="296.4" width="108.0" height="164.5"/></clipPath>
<g clip-path="url(#ke1)" stroke="#000" stroke-opacity="0.8" stroke-width="0.46" stroke-linejoin="round">
<rect x="42.0" y="296.4" width="108.0" height="164.5" fill="#ffffe5" stroke="none"/>
<path d="M42.0,296.4 150.0,296.4 150.0,460.9 80.3,460.9 75.0,459.8 72.0,459.4 69.0,459.3 64.5,459.8 60.5,460.9 42.0,460.9 42.0,296.4Z" fill="#fffee2"/>
<path d="M42.0,296.4 150.0,296.4 150.0,460.9 89.4,460.9 84.0,458.8 79.5,457.5 75.0,456.7 70.5,456.4 66.0,456.7 61.5,457.5 57.0,459.0 52.7,460.9 42.0,460.9 42.0,296.4Z" fill="#fffcd8"/>
<path d="M42.0,296.4 150.0,296.4 150.0,460.9 96.9,460.9 90.0,457.7 84.0,455.5 81.0,454.7 76.5,453.9 73.5,453.6 70.5,453.5 64.5,454.1 58.5,455.5 52.5,457.8 46.9,460.9 42.0,460.9 42.0,296.4Z" fill="#ffface"/>
<path d="M42.0,296.4 150.0,296.4 150.0,460.9 104.4,460.9 94.5,456.2 87.0,453.2 84.0,452.3 79.5,451.3 75.0,450.8 72.0,450.6 69.0,450.7 64.5,451.2 58.5,452.6 54.0,454.2 51.0,455.5 42.0,460.2 42.0,296.4Z" fill="#fff8c4"/>
<path d="M42.0,296.4 150.0,296.4 150.0,460.9 112.5,460.9 96.4,453.4 90.0,450.9 85.5,449.5 82.5,448.8 78.0,448.0 75.0,447.8 72.0,447.7 67.5,448.0 63.0,448.7 60.0,449.3 55.5,450.7 51.0,452.4 42.0,456.6 42.0,296.4Z" fill="#fff6b9"/>
<path d="M42.0,296.4 150.0,296.4 150.0,460.9 122.2,460.9 114.0,457.8 99.0,450.9 93.0,448.5 85.5,446.2 81.0,445.3 78.0,445.0 73.5,444.8 69.0,445.0 66.0,445.3 61.5,446.1 57.0,447.3 52.5,448.8 48.1,450.4 42.0,453.1 42.0,296.4Z" fill="#fff1ae"/>
<path d="M42.0,296.4 150.0,296.4 150.0,460.4 141.0,460.1 135.0,459.7 130.5,459.2 126.0,458.2 121.5,456.9 117.0,455.2 99.0,447.3 94.5,445.5 88.5,443.6 81.0,442.3 76.5,442.0 72.0,442.0 67.5,442.3 63.0,443.0 58.5,444.0 54.0,445.2 48.0,447.3 42.0,449.6 42.0,296.4Z" fill="#feeca5"/>
<path d="M42.0,296.4 150.0,296.4 150.0,455.8 135.0,455.6 130.5,455.2 126.0,454.3 121.5,453.1 117.0,451.4 100.5,444.2 96.0,442.5 91.5,441.1 88.5,440.4 81.0,439.4 76.5,439.2 72.0,439.3 67.5,439.7 63.0,440.3 54.0,442.3 42.0,446.1 42.0,296.4Z" fill="#fee79a"/>
<path d="M42.0,296.4 150.0,296.4 150.0,451.3 135.0,451.6 130.5,451.3 126.0,450.5 121.5,449.3 117.0,447.7 102.4,441.5 97.5,439.7 90.0,437.7 82.5,436.8 78.0,436.6 73.5,436.7 69.0,436.9 64.5,437.5 54.0,439.5 42.0,442.7 42.0,296.4Z" fill="#fee28e"/>
<path d="M42.0,296.4 150.0,296.4 150.0,447.0 135.0,447.5 130.5,447.4 127.5,447.0 123.0,446.0 118.5,444.5 105.0,439.1 99.0,437.0 91.5,435.1 84.0,434.2 75.0,434.0 70.5,434.3 64.5,434.9 54.0,436.7 42.0,439.4 42.0,296.4Z" fill="#feda7e"/>
<path d="M42.0,296.4 150.0,296.4 150.0,442.8 133.5,443.5 130.5,443.5 127.5,443.1 124.5,442.5 120.0,441.2 106.5,436.2 99.0,433.9 91.5,432.3 84.0,431.5 75.0,431.4 64.5,432.2 57.0,433.3 42.0,436.2 42.0,296.4Z" fill="#fed26d"/>
<path d="M42.0,296.4 150.0,296.4 150.0,438.5 144.0,438.7 133.5,439.5 130.5,439.5 127.5,439.2 121.5,437.8 108.0,433.3 100.5,431.2 93.0,429.6 85.5,428.8 76.5,428.6 69.0,429.0 60.0,430.0 42.0,432.9 42.0,296.4Z" fill="#feca5d"/>
<path d="M42.0,296.4 150.0,296.4 150.0,434.2 144.0,434.5 133.5,435.4 130.5,435.4 127.5,435.2 123.0,434.2 109.5,430.2 100.5,428.0 91.5,426.3 84.0,425.7 75.0,425.7 67.5,426.2 58.5,427.1 42.0,429.6 42.0,296.4Z" fill="#fec24d"/>
<path d="M42.0,296.4 150.0,296.4 150.0,430.1 144.0,430.4 133.5,431.2 130.5,431.2 127.5,431.0 123.0,430.2 109.5,426.7 99.0,424.4 90.0,423.0 82.5,422.5 75.0,422.4 67.5,422.9 57.0,424.0 42.0,425.9 42.0,296.4Z" fill="#feb744"/>
<path d="M42.0,296.4 150.0,296.4 150.0,426.2 133.5,427.1 127.5,426.9 123.0,426.2 108.0,422.8 96.0,420.6 88.5,419.5 81.0,419.0 75.0,418.9 69.0,419.2 61.5,419.9 42.0,422.1 42.0,296.4Z" fill="#fead3a"/>
<path d="M42.0,296.4 150.0,296.4 150.0,422.5 133.5,423.2 127.5,422.9 123.0,422.3 108.0,419.2 93.0,416.6 85.5,415.5 78.0,415.0 72.0,415.0 64.5,415.5 42.0,418.1 42.0,296.4Z" fill="#fea231"/>
<path d="M42.0,296.4 150.0,296.4 150.0,419.1 133.5,419.4 127.5,419.1 88.5,411.7 84.0,411.0 79.5,410.6 73.5,410.5 66.0,410.9 42.0,413.5 42.0,296.4Z" fill="#fd9728"/>
<path d="M42.0,296.4 150.0,296.4 150.0,415.3 138.0,415.5 129.0,415.1 103.5,410.4 90.0,407.7 79.5,406.4 66.0,406.3 55.5,407.1 46.5,408.1 42.0,408.4 42.0,296.4Z" fill="#f98d23"/>
<path d="M42.0,296.4 150.0,296.4 150.0,411.2 136.5,411.2 130.5,410.8 121.5,409.5 114.0,407.9 106.5,407.0 100.5,405.8 90.0,404.2 79.5,403.2 67.5,402.7 42.0,403.0 42.0,296.4Z" fill="#f4821d"/>
<path d="M42.0,296.4 150.0,296.4 150.0,406.9 141.0,406.8 133.5,407.0 121.5,405.6 114.0,404.2 108.0,403.6 90.0,401.3 72.0,399.6 61.5,399.1 49.5,398.1 42.0,397.3 42.0,296.4Z" fill="#f07818"/>
<path d="M42.0,296.4 150.0,296.4 150.0,403.4 141.0,403.0 135.0,403.4 132.0,403.4 127.5,402.6 118.5,401.6 114.0,400.8 103.5,399.4 96.0,399.0 88.5,397.9 82.5,397.6 73.5,396.0 66.0,395.6 61.9,395.1 49.5,392.7 42.0,390.4 42.0,296.4Z" fill="#e66a11"/>
<path d="M65.5,296.4 100.9,296.4 105.0,298.3 114.0,301.0 121.3,303.9 126.0,305.3 136.5,307.6 150.0,308.5 150.0,399.5 141.0,399.1 133.5,399.5 132.0,399.4 118.5,397.5 106.5,395.2 103.5,395.0 97.5,394.8 90.0,393.8 82.5,393.3 75.0,391.2 64.5,389.7 58.2,387.6 54.1,386.1 50.9,384.6 46.0,381.6 42.0,378.6 42.0,311.5 45.0,313.4 48.0,314.4 49.5,314.5 51.0,314.4 52.5,314.0 54.0,313.3 55.5,312.3 57.0,310.9 60.0,307.2 63.0,302.4 64.5,299.4 65.5,296.4Z" fill="#da5c0a"/>
<path d="M77.8,299.4 79.5,298.4 81.0,298.3 82.5,298.9 89.2,302.4 92.8,303.9 97.7,305.4 103.5,306.9 114.0,308.7 129.0,311.6 136.5,313.2 142.5,313.9 150.0,314.4 150.0,394.1 147.0,394.3 136.5,394.2 130.5,393.8 122.6,392.1 109.5,388.1 99.0,386.8 85.5,384.1 81.0,382.3 71.5,377.2 69.0,375.4 66.0,372.9 62.9,369.7 61.5,367.7 60.3,365.2 59.8,363.7 59.3,360.7 59.0,351.7 58.0,336.8 58.2,332.3 58.7,329.3 59.6,326.3 61.0,323.3 66.6,314.3 69.0,310.8 76.5,300.8 77.8,299.4Z" fill="#ce4f03"/>
<path d="M82.9,311.4 85.5,310.7 87.0,310.6 90.0,310.7 94.5,311.2 111.0,314.0 124.5,316.0 138.0,318.6 150.0,320.2 150.0,386.3 147.0,386.7 142.5,386.8 136.5,386.5 132.0,386.0 127.5,385.0 124.5,384.1 112.5,379.4 109.5,378.8 103.5,378.1 100.5,377.5 90.0,373.9 87.0,372.6 84.7,371.2 78.0,366.5 75.0,364.0 73.1,362.2 70.8,359.2 69.0,356.2 67.5,352.6 66.4,348.7 65.8,345.8 65.4,341.3 65.5,336.8 65.9,332.3 67.1,327.8 68.3,324.8 70.8,320.3 73.0,317.3 75.0,315.4 76.5,314.3 79.5,312.6 82.9,311.4Z" fill="#bc4503"/>
<path d="M83.2,318.8 85.5,318.0 88.5,317.5 93.0,317.4 99.0,317.9 109.5,320.1 120.0,321.2 138.0,324.5 145.4,326.3 148.5,327.5 150.0,328.3 150.0,371.9 147.0,372.8 144.0,373.3 136.5,374.0 132.0,374.1 127.5,373.8 117.0,371.8 105.0,370.2 99.0,368.5 93.0,366.0 84.0,360.3 81.0,358.2 78.9,356.2 77.7,354.7 75.6,351.7 74.0,348.7 73.3,347.2 72.5,344.3 72.1,341.3 72.0,338.3 72.5,333.8 73.4,330.8 74.7,327.8 76.3,324.8 78.0,322.5 79.5,321.0 81.0,319.9 83.2,318.8Z" fill="#ac3d03"/>
<path d="M85.8,326.3 88.5,325.7 93.0,325.3 96.0,325.3 99.0,325.5 109.5,327.4 130.5,330.0 136.5,331.5 141.0,333.2 144.0,334.9 145.5,336.0 150.0,340.4 150.0,358.9 147.0,360.4 144.0,361.3 138.0,361.9 132.0,362.7 127.5,362.9 114.0,362.0 108.0,361.2 102.0,359.8 96.0,357.8 88.4,354.7 85.5,353.0 84.3,351.7 83.2,350.2 80.3,345.8 79.7,344.3 79.1,341.3 79.0,336.8 79.5,334.8 83.5,327.8 84.0,327.3 85.8,326.3Z" fill="#9c3604"/>
</g>
<clipPath id="ke2"><rect x="153.9" y="296.4" width="107.99999999999997" height="164.5"/></clipPath>
<g clip-path="url(#ke2)" stroke="#000" stroke-opacity="0.8" stroke-width="0.46" stroke-linejoin="round">
<rect x="153.9" y="296.4" width="107.99999999999997" height="164.5" fill="#fec754" stroke="none"/>
<path d="M153.9,296.4 261.9,296.4 261.9,460.9 158.6,460.9 153.9,458.3 153.9,296.4Z" fill="#feba46"/>
<path d="M153.9,296.4 261.9,296.4 261.9,460.9 187.9,460.9 180.9,459.3 173.4,457.9 168.9,456.7 159.9,453.8 156.9,452.5 153.9,450.7 153.9,296.4Z" fill="#fead3a"/>
<path d="M153.9,296.4 261.9,296.4 261.9,460.9 219.9,460.9 212.4,459.4 207.9,458.9 189.9,455.8 174.9,452.5 168.9,451.0 162.9,449.1 159.9,447.7 156.9,445.9 155.3,444.4 154.1,443.0 153.9,442.7 153.9,296.4Z" fill="#fe9f2e"/>
<path d="M153.9,296.4 259.9,296.4 261.9,297.5 261.9,452.9 252.9,454.3 246.9,454.7 239.4,454.4 230.4,454.6 215.4,454.4 206.4,453.8 195.9,452.5 188.4,451.2 177.9,448.5 171.9,446.8 166.0,444.4 164.4,443.6 163.4,443.0 161.8,441.5 160.7,440.0 160.1,438.5 159.8,437.0 159.3,429.5 158.4,425.0 156.6,420.5 155.4,418.6 153.9,416.7 153.9,296.4Z" fill="#fb9225"/>
<path d="M153.9,296.4 252.1,296.4 256.5,299.4 261.9,301.9 261.9,445.9 249.9,447.4 237.9,448.0 213.9,450.0 207.9,450.2 203.4,449.8 195.9,449.0 191.4,448.2 186.9,447.0 180.9,445.1 176.4,443.3 172.9,441.5 170.4,439.7 169.2,438.5 168.0,437.0 165.6,432.5 162.9,425.0 160.2,419.0 158.4,416.3 157.0,414.5 153.9,411.4 153.9,296.4Z" fill="#f6861f"/>
<path d="M153.9,296.4 243.0,296.4 251.4,301.5 254.4,303.1 261.9,306.5 261.9,440.1 246.9,442.1 227.4,443.9 210.9,446.4 207.9,446.6 203.4,446.4 197.4,445.8 191.4,444.7 186.9,443.3 182.4,441.5 179.2,440.0 176.4,438.1 173.4,435.5 170.9,432.5 168.1,428.0 163.7,419.0 162.0,416.0 158.5,411.5 153.9,407.0 153.9,296.4Z" fill="#f07919"/>
<path d="M153.9,296.4 232.0,296.4 236.3,299.4 238.9,300.9 249.9,306.4 257.4,310.0 261.9,312.5 261.9,434.1 255.9,435.3 242.4,437.5 225.9,439.5 210.9,442.6 206.4,443.0 203.4,442.9 198.9,442.5 193.5,441.5 189.9,440.4 185.4,438.5 182.4,437.0 179.4,435.0 176.4,432.3 173.4,428.8 170.4,424.5 165.8,416.0 163.8,413.0 161.3,410.1 156.9,405.5 153.9,401.8 153.9,296.4Z" fill="#e96d13"/>
<path d="M153.9,296.4 221.6,296.4 227.4,300.9 229.6,302.4 236.4,306.2 246.5,311.4 254.4,315.8 258.9,318.8 261.9,321.5 261.9,427.3 255.9,429.2 243.9,431.9 224.4,435.2 210.9,438.6 207.9,439.0 204.9,439.2 200.4,438.9 195.9,438.1 192.3,437.0 188.4,435.3 185.4,433.7 181.5,431.0 179.4,429.0 176.4,425.7 173.4,421.6 169.2,414.5 167.1,411.5 164.4,408.3 159.9,403.5 156.9,399.3 153.9,395.9 153.9,296.4Z" fill="#df620d"/>
<path d="M153.9,296.4 207.6,296.4 210.9,298.0 222.9,305.6 233.4,311.6 240.1,315.8 246.5,320.3 250.2,323.3 254.4,327.1 257.4,330.3 261.9,335.7 261.9,419.1 258.9,420.7 254.4,422.7 249.9,424.3 243.9,426.2 237.9,427.7 222.9,430.9 210.9,434.4 206.4,435.1 203.4,435.1 200.4,434.7 197.0,434.0 192.8,432.5 189.7,431.0 186.9,429.2 183.9,426.8 180.9,423.7 177.9,420.0 171.2,410.1 163.1,401.1 153.9,388.5 153.9,296.4Z" fill="#d55607"/>
<path d="M173.3,300.9 180.9,299.9 185.4,299.7 189.9,299.7 194.4,300.2 198.9,301.2 204.9,303.2 209.4,305.1 215.4,308.1 224.4,313.3 230.4,317.1 234.7,320.3 241.9,326.3 246.6,330.8 250.8,335.3 253.4,338.3 259.0,345.8 261.9,349.0 261.9,409.4 258.9,412.0 255.9,414.0 249.5,417.5 243.9,419.9 237.8,422.0 222.9,426.2 210.9,429.8 206.4,430.5 204.9,430.6 201.9,430.3 198.4,429.5 194.4,427.9 191.4,426.2 187.9,423.5 185.4,421.1 182.4,417.5 174.8,407.1 168.9,401.1 166.5,398.1 161.4,390.6 153.9,378.5 153.9,305.7 156.9,304.5 161.4,303.0 165.9,302.1 173.3,300.9Z" fill="#cb4b02"/>
<path d="M182.8,306.9 186.9,306.2 191.4,306.0 194.4,306.4 198.9,307.5 204.9,309.5 210.9,312.0 216.9,315.1 222.9,318.7 225.9,320.9 230.8,324.8 238.9,332.3 243.0,336.8 249.8,345.8 253.7,350.2 261.9,358.3 261.9,398.1 255.9,405.6 254.5,407.1 252.7,408.6 248.4,411.1 243.9,413.4 236.4,416.6 230.4,418.8 215.4,423.6 210.9,424.8 206.4,425.4 203.4,425.2 200.4,424.5 197.4,423.3 194.4,421.5 191.2,419.0 186.9,414.6 178.5,404.1 173.1,398.1 170.8,395.1 168.0,390.6 165.4,386.1 158.8,374.2 153.9,364.5 153.9,316.7 155.4,315.6 158.4,313.9 162.9,311.9 167.4,310.5 182.8,306.9Z" fill="#bb4403"/>
<path d="M187.7,312.8 191.4,312.4 194.4,312.6 200.4,313.9 204.9,315.4 209.6,317.3 213.9,319.5 219.9,323.2 224.2,326.3 229.3,330.8 235.2,336.8 238.8,341.3 243.9,348.8 245.4,350.6 249.6,354.7 256.1,362.2 258.2,365.2 259.9,368.2 261.3,371.2 261.7,372.7 261.9,373.6 261.9,382.0 261.2,384.6 260.5,386.1 258.8,389.1 256.8,392.1 252.7,396.6 248.2,402.6 246.5,404.1 242.0,407.1 236.8,410.1 233.7,411.5 225.9,414.7 216.9,417.7 212.4,418.9 207.9,419.6 204.9,419.4 201.9,418.6 199.5,417.5 197.4,416.3 192.9,413.0 189.9,410.2 183.9,403.5 179.5,398.1 176.2,393.6 173.5,389.1 166.6,375.7 160.6,362.2 157.8,354.7 156.1,348.7 155.6,345.8 155.4,341.3 155.5,338.3 156.1,333.8 156.7,330.8 157.8,327.8 159.5,324.8 160.7,323.3 162.3,321.8 164.4,320.4 167.8,318.8 170.4,318.0 177.9,316.0 187.7,312.8Z" fill="#ac3d03"/>
<path d="M190.5,320.3 194.4,320.0 197.4,320.3 201.9,321.3 206.4,322.8 210.9,324.7 215.4,327.2 218.6,329.3 222.5,332.3 230.4,339.7 234.3,344.3 239.4,352.2 243.7,357.7 245.7,360.7 248.1,365.2 249.9,369.7 250.6,372.7 250.9,375.7 250.5,380.1 249.7,383.1 248.3,386.1 246.6,389.1 242.8,395.1 240.6,398.1 237.9,401.1 236.2,402.6 234.4,404.1 232.1,405.6 225.7,408.6 216.9,411.7 212.4,412.7 209.4,413.0 206.4,412.8 203.4,412.2 200.4,411.0 195.9,408.4 192.9,406.2 189.9,403.3 186.6,399.6 183.1,395.1 180.9,391.8 178.5,387.6 174.8,380.1 171.0,371.2 168.7,365.2 166.8,359.2 165.3,351.7 164.9,347.2 165.0,344.3 165.4,341.3 166.2,338.3 167.4,335.4 169.0,332.3 171.1,329.3 172.7,327.8 174.9,326.3 179.4,324.1 188.4,320.9 190.5,320.3Z" fill="#9c3604"/>
<path d="M193.7,329.3 197.4,329.1 200.4,329.3 203.4,329.9 206.4,330.8 210.0,332.3 213.9,334.4 216.9,336.3 221.4,339.7 227.4,344.9 230.4,348.7 234.1,354.7 235.8,357.7 237.8,362.2 238.8,365.2 239.5,368.2 240.0,371.2 240.2,374.2 240.0,377.2 239.5,380.1 238.7,383.1 237.6,386.1 236.2,389.1 234.4,392.1 232.2,395.1 228.9,398.5 225.9,400.7 222.9,402.4 219.9,403.7 216.9,404.8 213.9,405.5 210.9,405.8 207.9,405.8 204.9,405.5 201.9,404.7 198.9,403.5 197.4,402.7 195.3,401.1 192.9,398.8 189.9,395.4 187.4,392.1 185.4,389.1 183.0,384.6 180.3,378.6 178.6,374.2 177.1,369.7 175.9,365.2 174.9,360.7 174.2,356.2 174.0,353.2 174.0,350.2 174.5,347.2 175.9,342.8 177.4,339.8 179.3,336.8 180.6,335.3 182.4,333.7 184.6,332.3 186.9,331.2 189.9,330.2 193.7,329.3Z" fill="#8c3004"/>
<path d="M194.9,339.8 197.4,339.5 200.4,339.6 204.9,340.4 209.4,341.9 213.9,344.3 218.4,347.4 221.4,350.2 222.8,351.7 225.8,356.2 227.8,360.7 229.1,365.2 229.6,368.2 229.8,371.2 229.8,374.2 229.5,377.2 228.4,381.6 227.2,384.6 225.9,387.0 224.5,389.1 223.2,390.6 221.4,392.3 219.6,393.6 217.0,395.1 215.4,395.7 212.4,396.6 210.9,396.8 206.4,396.8 204.9,396.6 201.9,395.6 198.9,393.9 196.7,392.1 194.4,389.8 191.4,386.1 189.9,383.5 186.1,374.2 185.1,371.2 184.5,368.2 183.9,362.2 183.7,354.7 184.5,350.2 185.4,347.6 186.4,345.8 188.4,343.1 189.9,341.8 191.4,340.8 192.9,340.2 194.9,339.8Z" fill="#7c2c05"/>
<path d="M201.1,354.7 203.4,354.1 204.9,354.0 207.9,354.6 209.4,355.2 210.9,356.2 212.7,357.7 213.9,359.2 214.9,360.7 215.5,362.2 216.2,365.2 216.3,368.2 216.2,369.7 215.4,372.5 213.9,375.2 212.4,376.9 210.9,378.1 209.4,378.8 207.9,379.2 206.4,379.2 204.9,379.0 203.4,378.5 201.9,377.7 200.4,376.4 198.9,374.7 197.4,372.5 196.1,369.7 195.8,368.2 195.5,365.2 195.7,362.2 196.1,360.7 196.7,359.2 197.5,357.7 198.9,356.2 201.1,354.7Z" fill="#6c2706"/>
</g>
<clipPath id="kf1"><rect x="291.6" y="296.4" width="108.79999999999995" height="164.5"/></clipPath>
<g clip-path="url(#kf1)" stroke="#000" stroke-opacity="0.8" stroke-width="0.46" stroke-linejoin="round">
<rect x="291.6" y="296.4" width="108.79999999999995" height="164.5" fill="#e4eff6" stroke="none"/>
<path d="M291.6,296.4 400.4,296.4 400.4,460.9 342.0,460.9 341.9,459.4 342.2,456.4 344.3,448.9 344.6,447.4 344.5,445.9 344.1,444.4 343.2,443.0 341.4,441.5 339.3,440.5 336.3,439.9 331.8,440.1 328.9,440.6 325.9,441.6 315.0,445.9 308.0,450.1 305.0,451.5 300.5,453.2 291.6,456.1 291.6,296.4Z" fill="#dbe8f2"/>
<path d="M291.6,296.4 400.4,296.4 400.4,460.9 367.4,460.9 367.0,457.9 366.4,448.9 366.1,445.9 364.8,441.5 363.1,438.2 361.6,436.1 360.2,434.6 357.5,432.5 355.7,431.4 351.2,429.5 346.7,428.5 342.3,428.3 339.3,428.6 336.3,429.1 333.3,429.9 327.4,432.2 315.1,438.5 303.5,443.6 299.1,444.9 291.6,446.0 291.6,296.4Z" fill="#cfdfed"/>
<path d="M291.6,296.4 400.4,296.4 400.4,460.9 389.3,460.9 387.0,450.9 385.3,445.9 383.9,443.0 381.3,438.5 379.4,435.5 377.1,432.5 372.7,428.0 369.1,425.1 366.8,423.5 363.1,421.4 360.2,419.9 357.2,418.8 354.2,418.0 351.2,417.6 346.7,417.5 342.3,418.0 339.3,418.8 334.8,420.5 328.9,423.3 316.9,430.4 311.0,433.6 306.5,435.7 302.0,437.3 299.1,437.9 296.1,438.4 291.6,438.7 291.6,296.4Z" fill="#c5d8e9"/>
<path d="M291.6,296.4 400.4,296.4 400.4,429.4 399.1,428.0 397.4,426.7 394.8,425.0 380.8,417.5 369.1,411.6 363.1,409.3 358.7,407.9 355.7,407.4 351.2,407.2 346.7,407.5 343.8,408.1 337.8,409.8 334.8,410.9 331.8,412.5 322.9,418.2 314.0,424.6 310.5,426.5 304.1,429.5 302.0,430.3 299.1,431.0 294.6,431.5 291.6,431.6 291.6,296.4Z" fill="#bacfe4"/>
<path d="M291.6,296.4 400.4,296.4 400.4,413.4 395.9,411.4 384.0,407.1 371.3,402.6 361.9,399.6 357.2,398.6 352.7,398.1 346.7,398.2 340.8,399.0 333.3,400.7 330.4,401.6 327.4,403.1 323.3,405.6 311.0,414.6 308.0,416.6 305.0,418.3 302.0,419.6 299.1,420.5 296.1,421.0 291.6,421.0 291.6,296.4Z" fill="#aec7e0"/>
<path d="M291.6,296.4 400.4,296.4 400.4,403.7 395.9,402.3 360.2,392.8 354.2,391.8 348.2,391.6 345.3,391.8 333.3,393.3 327.4,394.4 322.9,396.0 302.0,404.2 297.6,405.3 291.6,406.0 291.6,296.4Z" fill="#a4c0dc"/>
<path d="M291.6,296.4 400.4,296.4 400.4,396.0 385.5,392.9 373.6,390.2 358.7,386.2 354.2,385.3 349.7,385.0 343.8,385.3 330.4,386.9 325.9,387.8 312.5,391.6 306.5,393.1 299.1,394.3 291.6,394.7 291.6,296.4Z" fill="#9bb6d7"/>
<path d="M291.6,296.4 400.4,296.4 400.4,388.9 385.5,386.2 378.0,384.7 372.1,383.2 360.2,379.9 355.7,378.8 352.7,378.3 348.2,378.0 340.8,378.1 330.4,379.6 325.9,380.4 318.4,382.3 306.5,384.7 299.1,385.2 291.6,385.2 291.6,296.4Z" fill="#95a8d0"/>
<path d="M291.6,296.4 400.4,296.4 400.4,381.8 394.4,380.5 383.0,378.6 370.6,375.8 361.6,373.3 357.2,372.2 352.7,371.5 346.7,370.8 340.8,370.5 334.8,370.6 327.4,371.0 315.4,372.3 303.5,373.1 296.1,373.3 291.6,372.9 291.6,296.4Z" fill="#8f9dc9"/>
<path d="M291.6,296.4 400.4,296.4 400.4,373.3 378.0,369.6 363.1,366.2 355.7,364.8 340.8,362.5 321.4,360.1 300.5,356.3 291.6,354.3 291.6,296.4Z" fill="#8c8fc2"/>
<path d="M291.6,296.4 400.4,296.4 400.4,365.9 384.0,363.2 364.6,359.1 351.2,356.9 340.8,354.6 331.8,352.0 314.0,345.9 299.1,341.7 291.6,340.0 291.6,296.4Z" fill="#8c80bb"/>
<path d="M291.6,296.4 400.4,296.4 400.4,359.7 391.5,358.1 381.0,355.8 369.1,352.9 355.7,350.6 343.8,347.7 337.8,345.6 333.3,343.7 314.0,334.0 306.5,330.8 300.5,329.0 291.6,327.5 291.6,296.4Z" fill="#8c72b5"/>
<path d="M291.6,296.4 400.4,296.4 400.4,354.2 384.0,350.8 370.6,347.5 357.2,344.9 346.7,342.4 342.3,340.9 337.8,338.9 328.9,333.9 316.9,326.0 309.5,321.4 306.5,319.8 300.5,317.2 291.6,314.8 291.6,296.4Z" fill="#8b64ad"/>
<path d="M291.6,296.4 400.4,296.4 400.4,348.7 385.5,346.0 352.7,338.6 346.7,337.0 340.8,334.7 336.5,332.3 329.7,327.8 309.5,312.8 302.0,307.7 299.1,306.1 291.6,302.7 291.6,296.4Z" fill="#8a55a7"/>
<path d="M298.0,296.4 400.4,296.4 400.4,343.0 385.5,340.8 360.5,335.3 351.2,332.9 345.3,330.8 342.3,329.5 339.3,327.9 330.4,321.7 318.6,312.8 305.0,301.2 298.0,296.4Z" fill="#8948a0"/>
<path d="M310.3,296.4 400.4,296.4 400.4,337.4 387.0,335.8 372.1,332.8 358.3,329.3 353.8,327.8 348.2,325.5 345.3,324.1 342.3,322.4 331.8,315.7 324.4,310.4 322.0,308.4 318.9,305.4 310.3,296.4Z" fill="#873897"/>
<path d="M320.0,296.4 400.4,296.4 400.4,331.9 390.0,330.9 378.0,328.9 364.6,325.6 360.2,324.2 355.7,322.5 349.7,319.7 345.3,317.4 336.3,311.8 331.3,308.4 328.9,306.5 326.1,303.9 323.5,300.9 320.0,296.4Z" fill="#84278c"/>
<path d="M328.1,296.4 400.4,296.4 400.4,326.4 388.5,325.4 379.5,323.9 367.6,321.0 363.1,319.6 358.7,317.9 348.2,313.2 345.1,311.4 338.1,306.9 334.8,304.3 332.7,302.4 330.2,299.4 328.1,296.4Z" fill="#821781"/>
<path d="M336.5,296.4 400.4,296.4 400.4,320.5 391.5,320.0 382.5,318.8 376.6,317.6 370.6,316.1 363.1,313.6 352.7,309.4 348.4,306.9 342.3,302.8 340.8,301.6 338.7,299.4 336.5,296.4Z" fill="#770c73"/>
<path d="M350.3,296.4 400.4,296.4 400.4,313.9 392.9,313.7 385.5,312.8 379.1,311.4 369.1,308.3 362.2,305.4 357.2,302.6 354.9,300.9 350.3,296.4Z" fill="#650762"/>
<path d="M373.9,296.4 400.4,296.4 400.4,305.4 392.9,305.1 390.0,304.7 386.6,303.9 383.0,302.4 381.0,301.3 376.6,298.0 373.9,296.4Z" fill="#640761"/>
</g>
<clipPath id="kf2"><rect x="403.7" y="296.4" width="108.10000000000002" height="164.5"/></clipPath>
<g clip-path="url(#kf2)" stroke="#000" stroke-opacity="0.8" stroke-width="0.46" stroke-linejoin="round">
<rect x="403.7" y="296.4" width="108.10000000000002" height="164.5" fill="#ebf4f8" stroke="none"/>
<path d="M403.7,296.4 511.8,296.4 511.8,435.8 508.8,437.5 505.4,440.0 494.1,448.9 483.3,458.5 481.8,459.6 480.3,460.3 478.4,460.9 403.7,460.9 403.7,296.4Z" fill="#e4eff6"/>
<path d="M403.7,296.4 511.8,296.4 511.8,421.3 509.7,422.0 506.4,423.5 500.9,426.5 490.8,432.3 481.8,436.6 474.3,439.5 462.3,443.2 454.7,446.6 448.7,449.1 441.2,452.8 438.2,453.8 432.2,455.4 429.2,456.4 419.0,460.9 403.7,460.9 403.7,296.4Z" fill="#dbe8f2"/>
<path d="M403.7,296.4 511.8,296.4 511.8,411.9 504.3,413.9 495.3,417.0 480.3,421.6 474.3,423.8 460.8,430.3 457.8,432.0 451.7,435.8 438.6,443.0 436.7,443.7 433.8,444.4 418.7,447.3 409.7,447.7 403.7,447.3 403.7,296.4Z" fill="#cfdfed"/>
<path d="M403.7,296.4 511.8,296.4 511.8,402.4 505.8,403.5 493.8,406.2 484.8,406.4 480.3,406.7 474.3,407.5 465.3,409.2 460.8,410.3 456.6,411.5 439.7,418.7 436.7,419.4 435.2,419.5 433.7,419.3 430.7,418.3 426.2,415.8 417.2,409.9 414.5,408.6 403.7,404.2 403.7,296.4Z" fill="#c5d8e9"/>
<path d="M403.7,296.4 511.8,296.4 511.8,393.3 501.3,395.5 496.8,396.0 489.3,396.2 475.8,397.5 469.8,397.7 459.3,398.7 450.2,399.1 445.7,398.9 441.2,398.0 437.0,396.6 427.7,392.4 412.7,386.7 408.1,384.6 403.7,382.3 403.7,296.4Z" fill="#bacfe4"/>
<path d="M403.7,296.4 511.8,296.4 511.8,387.2 495.3,389.6 483.3,391.0 478.8,391.3 468.3,391.4 460.8,390.8 456.2,390.0 452.9,389.1 448.7,387.6 442.7,384.9 438.2,382.4 432.1,378.6 427.7,375.7 414.3,365.2 406.7,358.2 405.0,356.2 403.7,354.3 403.7,296.4Z" fill="#aec7e0"/>
<path d="M405.2,296.4 511.8,296.4 511.8,381.5 505.8,381.9 501.3,382.4 496.8,383.2 490.8,384.6 487.8,384.9 481.8,385.3 471.3,384.9 468.3,384.4 463.8,383.4 457.8,381.6 453.2,379.5 448.8,377.2 445.7,375.2 442.7,373.0 438.9,369.7 434.3,365.2 427.9,357.7 425.6,354.7 419.4,345.8 417.5,342.8 415.2,338.3 413.3,333.8 411.5,327.8 409.2,321.8 407.3,315.8 406.6,311.4 405.2,296.4Z" fill="#a4c0dc"/>
<path d="M410.4,296.4 511.8,296.4 511.8,373.3 493.8,375.5 487.8,376.1 478.8,376.0 474.3,375.5 465.3,373.6 459.3,371.5 451.7,367.8 448.7,366.0 445.7,363.8 442.7,361.3 439.7,358.5 435.2,353.7 432.2,350.2 425.7,341.3 422.9,336.8 420.4,332.3 418.7,328.9 415.1,320.3 413.2,314.3 411.9,308.4 410.4,296.4Z" fill="#9bb6d7"/>
<path d="M415.3,296.4 511.8,296.4 511.8,365.0 501.3,365.8 489.3,365.9 480.3,365.7 472.8,364.7 465.3,363.0 459.3,361.0 453.2,358.1 447.2,354.3 441.2,349.3 436.7,344.9 430.7,337.2 424.7,327.9 421.0,320.3 418.9,314.3 416.9,306.9 415.3,296.4Z" fill="#95a8d0"/>
<path d="M420.5,296.4 511.8,296.4 511.8,357.6 505.8,357.7 499.8,357.5 489.3,356.2 478.8,355.5 472.8,354.7 466.8,353.3 460.8,351.3 454.7,348.5 450.2,345.8 444.2,341.3 439.3,336.8 436.7,333.8 434.3,330.8 429.2,323.3 426.2,317.6 424.4,312.8 421.9,303.9 420.5,296.4Z" fill="#8f9dc9"/>
<path d="M426.0,296.4 511.8,296.4 511.8,350.4 505.8,350.5 499.8,350.1 490.8,348.4 481.8,347.4 473.1,345.8 468.3,344.3 462.3,342.0 454.7,338.5 450.2,336.0 445.7,332.7 441.2,328.4 436.9,323.3 433.9,318.8 431.4,314.3 429.6,309.9 427.2,302.4 426.0,296.4Z" fill="#8c8fc2"/>
<path d="M431.8,296.4 511.8,296.4 511.8,342.4 505.8,342.8 499.8,342.8 487.8,341.4 484.8,340.7 477.3,338.8 474.3,337.8 465.3,333.9 457.8,330.9 453.2,328.7 448.7,325.8 445.7,323.3 441.6,318.8 438.4,314.3 435.9,309.9 434.0,305.4 432.6,300.9 431.8,296.4Z" fill="#8c80bb"/>
<path d="M438.0,296.4 511.8,296.4 511.8,332.8 504.3,333.4 495.3,333.3 489.3,332.7 483.3,331.6 478.8,330.5 472.8,328.4 465.3,325.3 454.7,320.6 451.7,318.8 448.7,316.4 445.7,313.3 444.2,311.4 441.5,306.9 440.0,303.9 438.6,299.4 438.0,296.4Z" fill="#8c72b5"/>
<path d="M448.1,296.4 511.8,296.4 511.8,323.3 502.8,323.9 493.8,323.7 489.3,323.4 483.3,322.5 478.8,321.6 474.3,320.2 470.7,318.8 465.3,316.4 461.5,314.3 457.8,311.8 455.5,309.9 452.9,306.9 451.0,303.9 449.5,300.9 448.1,296.4Z" fill="#8b64ad"/>
<path d="M463.5,296.4 511.8,296.4 511.8,312.4 508.8,312.9 502.8,313.5 496.8,313.7 487.8,312.9 484.8,312.3 481.8,311.4 474.7,308.4 472.0,306.9 469.9,305.4 468.3,303.9 465.9,300.9 463.5,296.4Z" fill="#8a55a7"/>
</g>
<rect x="42.00" y="296.40" width="108.00" height="164.50" fill="none" stroke="#3a3a3a" stroke-width="0.9" />
<line x1="47.09" y1="296.40" x2="47.09" y2="298.90" stroke="#111" stroke-width="0.85" />
<line x1="47.09" y1="460.90" x2="47.09" y2="458.40" stroke="#111" stroke-width="0.85" />
<line x1="54.15" y1="296.40" x2="54.15" y2="298.90" stroke="#111" stroke-width="0.85" />
<line x1="54.15" y1="460.90" x2="54.15" y2="458.40" stroke="#111" stroke-width="0.85" />
<line x1="59.93" y1="296.40" x2="59.93" y2="298.90" stroke="#111" stroke-width="0.85" />
<line x1="59.93" y1="460.90" x2="59.93" y2="458.40" stroke="#111" stroke-width="0.85" />
<line x1="64.81" y1="296.40" x2="64.81" y2="298.90" stroke="#111" stroke-width="0.85" />
<line x1="64.81" y1="460.90" x2="64.81" y2="458.40" stroke="#111" stroke-width="0.85" />
<line x1="69.04" y1="296.40" x2="69.04" y2="298.90" stroke="#111" stroke-width="0.85" />
<line x1="69.04" y1="460.90" x2="69.04" y2="458.40" stroke="#111" stroke-width="0.85" />
<line x1="72.76" y1="296.40" x2="72.76" y2="298.90" stroke="#111" stroke-width="0.85" />
<line x1="72.76" y1="460.90" x2="72.76" y2="458.40" stroke="#111" stroke-width="0.85" />
<line x1="76.10" y1="296.40" x2="76.10" y2="300.40" stroke="#111" stroke-width="0.85" />
<line x1="76.10" y1="460.90" x2="76.10" y2="456.90" stroke="#111" stroke-width="0.85" />
<line x1="98.05" y1="296.40" x2="98.05" y2="298.90" stroke="#111" stroke-width="0.85" />
<line x1="98.05" y1="460.90" x2="98.05" y2="458.40" stroke="#111" stroke-width="0.85" />
<line x1="110.88" y1="296.40" x2="110.88" y2="298.90" stroke="#111" stroke-width="0.85" />
<line x1="110.88" y1="460.90" x2="110.88" y2="458.40" stroke="#111" stroke-width="0.85" />
<line x1="119.99" y1="296.40" x2="119.99" y2="298.90" stroke="#111" stroke-width="0.85" />
<line x1="119.99" y1="460.90" x2="119.99" y2="458.40" stroke="#111" stroke-width="0.85" />
<line x1="127.05" y1="296.40" x2="127.05" y2="298.90" stroke="#111" stroke-width="0.85" />
<line x1="127.05" y1="460.90" x2="127.05" y2="458.40" stroke="#111" stroke-width="0.85" />
<line x1="132.83" y1="296.40" x2="132.83" y2="298.90" stroke="#111" stroke-width="0.85" />
<line x1="132.83" y1="460.90" x2="132.83" y2="458.40" stroke="#111" stroke-width="0.85" />
<line x1="137.71" y1="296.40" x2="137.71" y2="298.90" stroke="#111" stroke-width="0.85" />
<line x1="137.71" y1="460.90" x2="137.71" y2="458.40" stroke="#111" stroke-width="0.85" />
<line x1="141.94" y1="296.40" x2="141.94" y2="298.90" stroke="#111" stroke-width="0.85" />
<line x1="141.94" y1="460.90" x2="141.94" y2="458.40" stroke="#111" stroke-width="0.85" />
<line x1="145.66" y1="296.40" x2="145.66" y2="298.90" stroke="#111" stroke-width="0.85" />
<line x1="145.66" y1="460.90" x2="145.66" y2="458.40" stroke="#111" stroke-width="0.85" />
<line x1="149.00" y1="296.40" x2="149.00" y2="300.40" stroke="#111" stroke-width="0.85" />
<line x1="149.00" y1="460.90" x2="149.00" y2="456.90" stroke="#111" stroke-width="0.85" />
<line x1="42.00" y1="419.77" x2="45.20" y2="419.77" stroke="#3a3a3a" stroke-width="0.7" />
<line x1="150.00" y1="419.77" x2="146.80" y2="419.77" stroke="#3a3a3a" stroke-width="0.7" />
<line x1="42.00" y1="378.65" x2="45.20" y2="378.65" stroke="#3a3a3a" stroke-width="0.7" />
<line x1="150.00" y1="378.65" x2="146.80" y2="378.65" stroke="#3a3a3a" stroke-width="0.7" />
<line x1="42.00" y1="337.52" x2="45.20" y2="337.52" stroke="#3a3a3a" stroke-width="0.7" />
<line x1="150.00" y1="337.52" x2="146.80" y2="337.52" stroke="#3a3a3a" stroke-width="0.7" />
<text x="73.70" y="477.80" font-family='"Liberation Serif", serif' font-size="13.6" text-anchor="middle">10</text>
<text x="80.60" y="472.80" font-family='"Liberation Serif", serif' font-size="9.6" text-anchor="start">0</text>
<text x="146.60" y="477.80" font-family='"Liberation Serif", serif' font-size="13.6" text-anchor="middle">10</text>
<text x="153.50" y="472.80" font-family='"Liberation Serif", serif' font-size="9.6" text-anchor="start">1</text>
<text x="97.50" y="495.3" font-family='"Liberation Serif", serif' font-size="13.8" text-anchor="middle" font-style="italic">Ae</text>
<rect x="153.90" y="296.40" width="108.00" height="164.50" fill="none" stroke="#3a3a3a" stroke-width="0.9" />
<line x1="158.99" y1="296.40" x2="158.99" y2="298.90" stroke="#111" stroke-width="0.85" />
<line x1="158.99" y1="460.90" x2="158.99" y2="458.40" stroke="#111" stroke-width="0.85" />
<line x1="166.05" y1="296.40" x2="166.05" y2="298.90" stroke="#111" stroke-width="0.85" />
<line x1="166.05" y1="460.90" x2="166.05" y2="458.40" stroke="#111" stroke-width="0.85" />
<line x1="171.83" y1="296.40" x2="171.83" y2="298.90" stroke="#111" stroke-width="0.85" />
<line x1="171.83" y1="460.90" x2="171.83" y2="458.40" stroke="#111" stroke-width="0.85" />
<line x1="176.71" y1="296.40" x2="176.71" y2="298.90" stroke="#111" stroke-width="0.85" />
<line x1="176.71" y1="460.90" x2="176.71" y2="458.40" stroke="#111" stroke-width="0.85" />
<line x1="180.94" y1="296.40" x2="180.94" y2="298.90" stroke="#111" stroke-width="0.85" />
<line x1="180.94" y1="460.90" x2="180.94" y2="458.40" stroke="#111" stroke-width="0.85" />
<line x1="184.66" y1="296.40" x2="184.66" y2="298.90" stroke="#111" stroke-width="0.85" />
<line x1="184.66" y1="460.90" x2="184.66" y2="458.40" stroke="#111" stroke-width="0.85" />
<line x1="188.00" y1="296.40" x2="188.00" y2="300.40" stroke="#111" stroke-width="0.85" />
<line x1="188.00" y1="460.90" x2="188.00" y2="456.90" stroke="#111" stroke-width="0.85" />
<line x1="209.95" y1="296.40" x2="209.95" y2="298.90" stroke="#111" stroke-width="0.85" />
<line x1="209.95" y1="460.90" x2="209.95" y2="458.40" stroke="#111" stroke-width="0.85" />
<line x1="222.78" y1="296.40" x2="222.78" y2="298.90" stroke="#111" stroke-width="0.85" />
<line x1="222.78" y1="460.90" x2="222.78" y2="458.40" stroke="#111" stroke-width="0.85" />
<line x1="231.89" y1="296.40" x2="231.89" y2="298.90" stroke="#111" stroke-width="0.85" />
<line x1="231.89" y1="460.90" x2="231.89" y2="458.40" stroke="#111" stroke-width="0.85" />
<line x1="238.95" y1="296.40" x2="238.95" y2="298.90" stroke="#111" stroke-width="0.85" />
<line x1="238.95" y1="460.90" x2="238.95" y2="458.40" stroke="#111" stroke-width="0.85" />
<line x1="244.73" y1="296.40" x2="244.73" y2="298.90" stroke="#111" stroke-width="0.85" />
<line x1="244.73" y1="460.90" x2="244.73" y2="458.40" stroke="#111" stroke-width="0.85" />
<line x1="249.61" y1="296.40" x2="249.61" y2="298.90" stroke="#111" stroke-width="0.85" />
<line x1="249.61" y1="460.90" x2="249.61" y2="458.40" stroke="#111" stroke-width="0.85" />
<line x1="253.84" y1="296.40" x2="253.84" y2="298.90" stroke="#111" stroke-width="0.85" />
<line x1="253.84" y1="460.90" x2="253.84" y2="458.40" stroke="#111" stroke-width="0.85" />
<line x1="257.56" y1="296.40" x2="257.56" y2="298.90" stroke="#111" stroke-width="0.85" />
<line x1="257.56" y1="460.90" x2="257.56" y2="458.40" stroke="#111" stroke-width="0.85" />
<line x1="260.90" y1="296.40" x2="260.90" y2="300.40" stroke="#111" stroke-width="0.85" />
<line x1="260.90" y1="460.90" x2="260.90" y2="456.90" stroke="#111" stroke-width="0.85" />
<line x1="153.90" y1="419.77" x2="157.10" y2="419.77" stroke="#3a3a3a" stroke-width="0.7" />
<line x1="261.90" y1="419.77" x2="258.70" y2="419.77" stroke="#3a3a3a" stroke-width="0.7" />
<line x1="153.90" y1="378.65" x2="157.10" y2="378.65" stroke="#3a3a3a" stroke-width="0.7" />
<line x1="261.90" y1="378.65" x2="258.70" y2="378.65" stroke="#3a3a3a" stroke-width="0.7" />
<line x1="153.90" y1="337.52" x2="157.10" y2="337.52" stroke="#3a3a3a" stroke-width="0.7" />
<line x1="261.90" y1="337.52" x2="258.70" y2="337.52" stroke="#3a3a3a" stroke-width="0.7" />
<text x="185.60" y="477.80" font-family='"Liberation Serif", serif' font-size="13.6" text-anchor="middle">10</text>
<text x="192.50" y="472.80" font-family='"Liberation Serif", serif' font-size="9.6" text-anchor="start">0</text>
<text x="258.50" y="477.80" font-family='"Liberation Serif", serif' font-size="13.6" text-anchor="middle">10</text>
<text x="265.40" y="472.80" font-family='"Liberation Serif", serif' font-size="9.6" text-anchor="start">1</text>
<text x="209.40" y="495.3" font-family='"Liberation Serif", serif' font-size="13.8" text-anchor="middle" font-style="italic">Ae</text>
<rect x="291.60" y="296.40" width="108.80" height="164.50" fill="none" stroke="#3a3a3a" stroke-width="0.9" />
<line x1="296.59" y1="296.40" x2="296.59" y2="298.90" stroke="#111" stroke-width="0.85" />
<line x1="296.59" y1="460.90" x2="296.59" y2="458.40" stroke="#111" stroke-width="0.85" />
<line x1="303.65" y1="296.40" x2="303.65" y2="298.90" stroke="#111" stroke-width="0.85" />
<line x1="303.65" y1="460.90" x2="303.65" y2="458.40" stroke="#111" stroke-width="0.85" />
<line x1="309.43" y1="296.40" x2="309.43" y2="298.90" stroke="#111" stroke-width="0.85" />
<line x1="309.43" y1="460.90" x2="309.43" y2="458.40" stroke="#111" stroke-width="0.85" />
<line x1="314.31" y1="296.40" x2="314.31" y2="298.90" stroke="#111" stroke-width="0.85" />
<line x1="314.31" y1="460.90" x2="314.31" y2="458.40" stroke="#111" stroke-width="0.85" />
<line x1="318.54" y1="296.40" x2="318.54" y2="298.90" stroke="#111" stroke-width="0.85" />
<line x1="318.54" y1="460.90" x2="318.54" y2="458.40" stroke="#111" stroke-width="0.85" />
<line x1="322.26" y1="296.40" x2="322.26" y2="298.90" stroke="#111" stroke-width="0.85" />
<line x1="322.26" y1="460.90" x2="322.26" y2="458.40" stroke="#111" stroke-width="0.85" />
<line x1="325.60" y1="296.40" x2="325.60" y2="300.40" stroke="#111" stroke-width="0.85" />
<line x1="325.60" y1="460.90" x2="325.60" y2="456.90" stroke="#111" stroke-width="0.85" />
<line x1="347.55" y1="296.40" x2="347.55" y2="298.90" stroke="#111" stroke-width="0.85" />
<line x1="347.55" y1="460.90" x2="347.55" y2="458.40" stroke="#111" stroke-width="0.85" />
<line x1="360.38" y1="296.40" x2="360.38" y2="298.90" stroke="#111" stroke-width="0.85" />
<line x1="360.38" y1="460.90" x2="360.38" y2="458.40" stroke="#111" stroke-width="0.85" />
<line x1="369.49" y1="296.40" x2="369.49" y2="298.90" stroke="#111" stroke-width="0.85" />
<line x1="369.49" y1="460.90" x2="369.49" y2="458.40" stroke="#111" stroke-width="0.85" />
<line x1="376.55" y1="296.40" x2="376.55" y2="298.90" stroke="#111" stroke-width="0.85" />
<line x1="376.55" y1="460.90" x2="376.55" y2="458.40" stroke="#111" stroke-width="0.85" />
<line x1="382.33" y1="296.40" x2="382.33" y2="298.90" stroke="#111" stroke-width="0.85" />
<line x1="382.33" y1="460.90" x2="382.33" y2="458.40" stroke="#111" stroke-width="0.85" />
<line x1="387.21" y1="296.40" x2="387.21" y2="298.90" stroke="#111" stroke-width="0.85" />
<line x1="387.21" y1="460.90" x2="387.21" y2="458.40" stroke="#111" stroke-width="0.85" />
<line x1="391.44" y1="296.40" x2="391.44" y2="298.90" stroke="#111" stroke-width="0.85" />
<line x1="391.44" y1="460.90" x2="391.44" y2="458.40" stroke="#111" stroke-width="0.85" />
<line x1="395.16" y1="296.40" x2="395.16" y2="298.90" stroke="#111" stroke-width="0.85" />
<line x1="395.16" y1="460.90" x2="395.16" y2="458.40" stroke="#111" stroke-width="0.85" />
<line x1="398.50" y1="296.40" x2="398.50" y2="300.40" stroke="#111" stroke-width="0.85" />
<line x1="398.50" y1="460.90" x2="398.50" y2="456.90" stroke="#111" stroke-width="0.85" />
<line x1="291.60" y1="419.77" x2="294.80" y2="419.77" stroke="#3a3a3a" stroke-width="0.7" />
<line x1="400.40" y1="419.77" x2="397.20" y2="419.77" stroke="#3a3a3a" stroke-width="0.7" />
<line x1="291.60" y1="378.65" x2="294.80" y2="378.65" stroke="#3a3a3a" stroke-width="0.7" />
<line x1="400.40" y1="378.65" x2="397.20" y2="378.65" stroke="#3a3a3a" stroke-width="0.7" />
<line x1="291.60" y1="337.52" x2="294.80" y2="337.52" stroke="#3a3a3a" stroke-width="0.7" />
<line x1="400.40" y1="337.52" x2="397.20" y2="337.52" stroke="#3a3a3a" stroke-width="0.7" />
<text x="323.20" y="477.80" font-family='"Liberation Serif", serif' font-size="13.6" text-anchor="middle">10</text>
<text x="330.10" y="472.80" font-family='"Liberation Serif", serif' font-size="9.6" text-anchor="start">0</text>
<text x="396.10" y="477.80" font-family='"Liberation Serif", serif' font-size="13.6" text-anchor="middle">10</text>
<text x="403.00" y="472.80" font-family='"Liberation Serif", serif' font-size="9.6" text-anchor="start">1</text>
<text x="347.50" y="495.3" font-family='"Liberation Serif", serif' font-size="13.8" text-anchor="middle" font-style="italic">Ae</text>
<rect x="403.70" y="296.40" width="108.10" height="164.50" fill="none" stroke="#3a3a3a" stroke-width="0.9" />
<line x1="408.79" y1="296.40" x2="408.79" y2="298.90" stroke="#111" stroke-width="0.85" />
<line x1="408.79" y1="460.90" x2="408.79" y2="458.40" stroke="#111" stroke-width="0.85" />
<line x1="415.85" y1="296.40" x2="415.85" y2="298.90" stroke="#111" stroke-width="0.85" />
<line x1="415.85" y1="460.90" x2="415.85" y2="458.40" stroke="#111" stroke-width="0.85" />
<line x1="421.63" y1="296.40" x2="421.63" y2="298.90" stroke="#111" stroke-width="0.85" />
<line x1="421.63" y1="460.90" x2="421.63" y2="458.40" stroke="#111" stroke-width="0.85" />
<line x1="426.51" y1="296.40" x2="426.51" y2="298.90" stroke="#111" stroke-width="0.85" />
<line x1="426.51" y1="460.90" x2="426.51" y2="458.40" stroke="#111" stroke-width="0.85" />
<line x1="430.74" y1="296.40" x2="430.74" y2="298.90" stroke="#111" stroke-width="0.85" />
<line x1="430.74" y1="460.90" x2="430.74" y2="458.40" stroke="#111" stroke-width="0.85" />
<line x1="434.46" y1="296.40" x2="434.46" y2="298.90" stroke="#111" stroke-width="0.85" />
<line x1="434.46" y1="460.90" x2="434.46" y2="458.40" stroke="#111" stroke-width="0.85" />
<line x1="437.80" y1="296.40" x2="437.80" y2="300.40" stroke="#111" stroke-width="0.85" />
<line x1="437.80" y1="460.90" x2="437.80" y2="456.90" stroke="#111" stroke-width="0.85" />
<line x1="459.75" y1="296.40" x2="459.75" y2="298.90" stroke="#111" stroke-width="0.85" />
<line x1="459.75" y1="460.90" x2="459.75" y2="458.40" stroke="#111" stroke-width="0.85" />
<line x1="472.58" y1="296.40" x2="472.58" y2="298.90" stroke="#111" stroke-width="0.85" />
<line x1="472.58" y1="460.90" x2="472.58" y2="458.40" stroke="#111" stroke-width="0.85" />
<line x1="481.69" y1="296.40" x2="481.69" y2="298.90" stroke="#111" stroke-width="0.85" />
<line x1="481.69" y1="460.90" x2="481.69" y2="458.40" stroke="#111" stroke-width="0.85" />
<line x1="488.75" y1="296.40" x2="488.75" y2="298.90" stroke="#111" stroke-width="0.85" />
<line x1="488.75" y1="460.90" x2="488.75" y2="458.40" stroke="#111" stroke-width="0.85" />
<line x1="494.53" y1="296.40" x2="494.53" y2="298.90" stroke="#111" stroke-width="0.85" />
<line x1="494.53" y1="460.90" x2="494.53" y2="458.40" stroke="#111" stroke-width="0.85" />
<line x1="499.41" y1="296.40" x2="499.41" y2="298.90" stroke="#111" stroke-width="0.85" />
<line x1="499.41" y1="460.90" x2="499.41" y2="458.40" stroke="#111" stroke-width="0.85" />
<line x1="503.64" y1="296.40" x2="503.64" y2="298.90" stroke="#111" stroke-width="0.85" />
<line x1="503.64" y1="460.90" x2="503.64" y2="458.40" stroke="#111" stroke-width="0.85" />
<line x1="507.36" y1="296.40" x2="507.36" y2="298.90" stroke="#111" stroke-width="0.85" />
<line x1="507.36" y1="460.90" x2="507.36" y2="458.40" stroke="#111" stroke-width="0.85" />
<line x1="510.70" y1="296.40" x2="510.70" y2="300.40" stroke="#111" stroke-width="0.85" />
<line x1="510.70" y1="460.90" x2="510.70" y2="456.90" stroke="#111" stroke-width="0.85" />
<line x1="403.70" y1="419.77" x2="406.90" y2="419.77" stroke="#3a3a3a" stroke-width="0.7" />
<line x1="511.80" y1="419.77" x2="508.60" y2="419.77" stroke="#3a3a3a" stroke-width="0.7" />
<line x1="403.70" y1="378.65" x2="406.90" y2="378.65" stroke="#3a3a3a" stroke-width="0.7" />
<line x1="511.80" y1="378.65" x2="508.60" y2="378.65" stroke="#3a3a3a" stroke-width="0.7" />
<line x1="403.70" y1="337.52" x2="406.90" y2="337.52" stroke="#3a3a3a" stroke-width="0.7" />
<line x1="511.80" y1="337.52" x2="508.60" y2="337.52" stroke="#3a3a3a" stroke-width="0.7" />
<text x="435.40" y="477.80" font-family='"Liberation Serif", serif' font-size="13.6" text-anchor="middle">10</text>
<text x="442.30" y="472.80" font-family='"Liberation Serif", serif' font-size="9.6" text-anchor="start">0</text>
<text x="508.30" y="477.80" font-family='"Liberation Serif", serif' font-size="13.6" text-anchor="middle">10</text>
<text x="515.20" y="472.80" font-family='"Liberation Serif", serif' font-size="9.6" text-anchor="start">1</text>
<text x="459.25" y="495.3" font-family='"Liberation Serif", serif' font-size="13.8" text-anchor="middle" font-style="italic">Ae</text>
<text x="37.30" y="465.50" font-family='"Liberation Serif", serif' font-size="13.6" text-anchor="end"  >15</text>
<text x="37.30" y="424.38" font-family='"Liberation Serif", serif' font-size="13.6" text-anchor="end"  >30</text>
<text x="37.30" y="383.25" font-family='"Liberation Serif", serif' font-size="13.6" text-anchor="end"  >45</text>
<text x="37.30" y="342.12" font-family='"Liberation Serif", serif' font-size="13.6" text-anchor="end"  >60</text>
<text x="37.30" y="301.00" font-family='"Liberation Serif", serif' font-size="13.6" text-anchor="end"  >75</text>
<g transform="translate(9.6,368.4) rotate(-90)" font-family='"Liberation Serif", serif'><text x="-12.8" y="0" font-size="14.8" font-style="italic">α</text><path d="M-11.0,-7.2 L-8.7,-9.8 L-6.4,-7.2" fill="none" stroke="#000" stroke-width="0.75"/><text x="-1.2" y="0" font-size="14.2">[°]</text></g>
<rect x="47.4" y="300.0" width="28.6" height="18.5" fill="#fff" fill-opacity="0.7"/>
<text x="52.2" y="313.3" font-family='"Liberation Serif", serif' font-size="14.2" font-weight="bold" letter-spacing="0.7">e1.</text>
<rect x="159.3" y="300.0" width="28.6" height="18.5" fill="#fff" fill-opacity="0.7"/>
<text x="164.1" y="313.3" font-family='"Liberation Serif", serif' font-size="14.2" font-weight="bold" letter-spacing="0.7">e2.</text>
<rect x="297.0" y="300.0" width="28.6" height="18.5" fill="#fff" fill-opacity="0.7"/>
<text x="301.8" y="313.3" font-family='"Liberation Serif", serif' font-size="14.2" font-weight="bold" letter-spacing="0.7">f1.</text>
<rect x="409.1" y="300.0" width="28.6" height="18.5" fill="#fff" fill-opacity="0.7"/>
<text x="413.9" y="313.3" font-family='"Liberation Serif", serif' font-size="14.2" font-weight="bold" letter-spacing="0.7">f2.</text>
<defs><linearGradient id="gcl" x1="0" x2="1" y1="0" y2="0"><stop offset="0.0000" stop-color="#ffffe5"/><stop offset="0.0417" stop-color="#fffcd8"/><stop offset="0.0833" stop-color="#fffaca"/><stop offset="0.1250" stop-color="#fff7bc"/><stop offset="0.1667" stop-color="#fff1ae"/><stop offset="0.2083" stop-color="#feeaa0"/><stop offset="0.2500" stop-color="#fee390"/><stop offset="0.2917" stop-color="#fed97c"/><stop offset="0.3333" stop-color="#fece65"/><stop offset="0.3750" stop-color="#fec34f"/><stop offset="0.4167" stop-color="#feb643"/><stop offset="0.4583" stop-color="#fea736"/><stop offset="0.5000" stop-color="#fe9829"/><stop offset="0.5417" stop-color="#f88b22"/><stop offset="0.5833" stop-color="#f27d1b"/><stop offset="0.6250" stop-color="#eb6f14"/><stop offset="0.6667" stop-color="#e1640e"/><stop offset="0.7083" stop-color="#d65808"/><stop offset="0.7500" stop-color="#cb4b02"/><stop offset="0.7917" stop-color="#bb4403"/><stop offset="0.8333" stop-color="#a93c03"/><stop offset="0.8750" stop-color="#983404"/><stop offset="0.9167" stop-color="#882f05"/><stop offset="0.9583" stop-color="#762a05"/><stop offset="1.0000" stop-color="#662506"/></linearGradient></defs>
<rect x="151.7" y="278.8" width="110.19999999999999" height="10.199999999999989" fill="url(#gcl)" stroke="#3a3a3a" stroke-width="0.8"/>
<line x1="168.90" y1="278.80" x2="168.90" y2="281.50" stroke="#1a1a1a" stroke-width="0.7" />
<line x1="168.90" y1="289.00" x2="168.90" y2="286.30" stroke="#1a1a1a" stroke-width="0.7" />
<text x="168.90" y="274.00" font-family='"Liberation Serif", serif' font-size="13.6" text-anchor="middle"  >0</text>
<line x1="202.80" y1="278.80" x2="202.80" y2="281.50" stroke="#1a1a1a" stroke-width="0.7" />
<line x1="202.80" y1="289.00" x2="202.80" y2="286.30" stroke="#1a1a1a" stroke-width="0.7" />
<text x="202.80" y="274.00" font-family='"Liberation Serif", serif' font-size="13.6" text-anchor="middle"  >1</text>
<line x1="236.70" y1="278.80" x2="236.70" y2="281.50" stroke="#1a1a1a" stroke-width="0.7" />
<line x1="236.70" y1="289.00" x2="236.70" y2="286.30" stroke="#1a1a1a" stroke-width="0.7" />
<text x="236.70" y="274.00" font-family='"Liberation Serif", serif' font-size="13.6" text-anchor="middle"  >2</text>
<text x="131.20" y="288.20" font-family='"Liberation Serif", serif' font-size="14.6" font-style="italic">C</text>
<line x1="134.40" y1="277.00" x2="140.80" y2="277.00" stroke="#000" stroke-width="0.75"/>
<text x="141.00" y="290.40" font-family='"Liberation Serif", serif' font-size="9.8">L</text>
<defs><linearGradient id="gcp" x1="0" x2="1" y1="0" y2="0"><stop offset="0.0000" stop-color="#f7fcfd"/><stop offset="0.0417" stop-color="#f0f7fa"/><stop offset="0.0833" stop-color="#e8f1f7"/><stop offset="0.1250" stop-color="#e0ecf4"/><stop offset="0.1667" stop-color="#d6e4f0"/><stop offset="0.2083" stop-color="#cadbeb"/><stop offset="0.2500" stop-color="#bfd3e6"/><stop offset="0.2917" stop-color="#b4cce2"/><stop offset="0.3333" stop-color="#a9c4de"/><stop offset="0.3750" stop-color="#9ebcda"/><stop offset="0.4167" stop-color="#98b0d3"/><stop offset="0.4583" stop-color="#92a3cd"/><stop offset="0.5000" stop-color="#8c95c6"/><stop offset="0.5417" stop-color="#8c88bf"/><stop offset="0.5833" stop-color="#8c79b8"/><stop offset="0.6250" stop-color="#8c6ab1"/><stop offset="0.6667" stop-color="#8b5daa"/><stop offset="0.7083" stop-color="#894fa3"/><stop offset="0.7500" stop-color="#88409c"/><stop offset="0.7917" stop-color="#863092"/><stop offset="0.8333" stop-color="#831f86"/><stop offset="0.8750" stop-color="#800f7b"/><stop offset="0.9167" stop-color="#6f0a6b"/><stop offset="0.9583" stop-color="#5d055a"/><stop offset="1.0000" stop-color="#4d004b"/></linearGradient></defs>
<rect x="401.9" y="278.8" width="109.90000000000003" height="10.199999999999989" fill="url(#gcp)" stroke="#3a3a3a" stroke-width="0.8"/>
<text x="401.90" y="274.00" font-family='"Liberation Serif", serif' font-size="13.6" text-anchor="middle"  >0</text>
<line x1="438.50" y1="278.80" x2="438.50" y2="281.50" stroke="#1a1a1a" stroke-width="0.7" />
<line x1="438.50" y1="289.00" x2="438.50" y2="286.30" stroke="#1a1a1a" stroke-width="0.7" />
<text x="438.50" y="274.00" font-family='"Liberation Serif", serif' font-size="13.6" text-anchor="middle"  >2.5</text>
<line x1="475.20" y1="278.80" x2="475.20" y2="281.50" stroke="#1a1a1a" stroke-width="0.7" />
<line x1="475.20" y1="289.00" x2="475.20" y2="286.30" stroke="#1a1a1a" stroke-width="0.7" />
<text x="475.20" y="274.00" font-family='"Liberation Serif", serif' font-size="13.6" text-anchor="middle"  >5</text>
<text x="511.80" y="274.00" font-family='"Liberation Serif", serif' font-size="13.6" text-anchor="middle"  >7.5</text>
<text x="381.40" y="288.20" font-family='"Liberation Serif", serif' font-size="14.6" font-style="italic">C</text>
<line x1="384.60" y1="277.00" x2="391.00" y2="277.00" stroke="#000" stroke-width="0.75"/>
<text x="391.20" y="290.40" font-family='"Liberation Serif", serif' font-size="9.8">P</text>
</svg>
</body></html>
